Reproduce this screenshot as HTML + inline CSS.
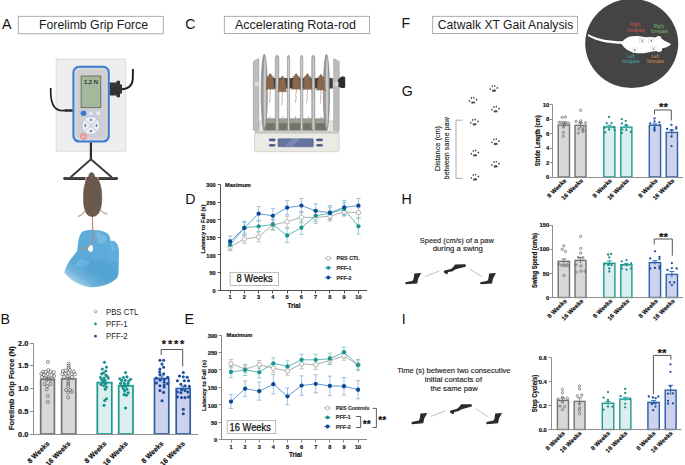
<!DOCTYPE html>
<html><head><meta charset="utf-8"><title>Figure</title>
<style>html,body{margin:0;padding:0;background:#fff;width:685px;height:465px;overflow:hidden}
svg{display:block} text{font-family:"Liberation Sans",sans-serif}</style></head>
<body><svg width="685" height="465" viewBox="0 0 685 465">
<rect width="685" height="465" fill="#fff"/>
<rect x="18.3" y="16.3" width="145.0" height="17.499999999999996" fill="#fff" stroke="#9a9a9a" stroke-width="0.8"/>
<text x="39.00" y="29.30" font-size="12.8" font-weight="normal" text-anchor="start" fill="#1a1a1a" textLength="109" lengthAdjust="spacingAndGlyphs">Forelimb Grip Force</text>
<rect x="224.3" y="16.3" width="145.3" height="17.3" fill="#fff" stroke="#9a9a9a" stroke-width="0.8"/>
<text x="235.00" y="29.30" font-size="12.8" font-weight="normal" text-anchor="start" fill="#1a1a1a" textLength="121" lengthAdjust="spacingAndGlyphs">Accelerating Rota-rod</text>
<rect x="432.7" y="16.3" width="144.8" height="17.3" fill="#fff" stroke="#9a9a9a" stroke-width="0.8"/>
<text x="437.80" y="29.30" font-size="12.8" font-weight="normal" text-anchor="start" fill="#1a1a1a" textLength="135.5" lengthAdjust="spacingAndGlyphs">Catwalk XT Gait Analysis</text>
<text x="2.00" y="28.60" font-size="14.2" font-weight="normal" text-anchor="start" fill="#111">A</text>
<text x="185.30" y="28.60" font-size="14.2" font-weight="normal" text-anchor="start" fill="#111">C</text>
<text x="401.50" y="28.30" font-size="14.2" font-weight="normal" text-anchor="start" fill="#111">F</text>
<text x="0.60" y="324.20" font-size="14.2" font-weight="normal" text-anchor="start" fill="#111">B</text>
<text x="184.60" y="324.20" font-size="14.2" font-weight="normal" text-anchor="start" fill="#111">E</text>
<text x="185.30" y="204.40" font-size="14.2" font-weight="normal" text-anchor="start" fill="#111">D</text>
<text x="401.80" y="95.90" font-size="14.2" font-weight="normal" text-anchor="start" fill="#111">G</text>
<text x="401.40" y="204.20" font-size="14.2" font-weight="normal" text-anchor="start" fill="#111">H</text>
<text x="401.80" y="324.00" font-size="14.2" font-weight="normal" text-anchor="start" fill="#111">I</text>
<line x1="33.5" y1="343" x2="33.5" y2="434.5" stroke="#8e8e8e" stroke-width="1.0"/>
<line x1="29.9" y1="434.50" x2="33.5" y2="434.50" stroke="#8e8e8e" stroke-width="1.0"/>
<text x="28.40" y="436.66" font-size="7.4" font-weight="bold" text-anchor="end" fill="#111" stroke="#111" stroke-width="0.18">0.0</text>
<line x1="29.9" y1="411.50" x2="33.5" y2="411.50" stroke="#8e8e8e" stroke-width="1.0"/>
<text x="28.40" y="413.91" font-size="7.4" font-weight="bold" text-anchor="end" fill="#111" stroke="#111" stroke-width="0.18">0.5</text>
<line x1="29.9" y1="388.50" x2="33.5" y2="388.50" stroke="#8e8e8e" stroke-width="1.0"/>
<text x="28.40" y="391.16" font-size="7.4" font-weight="bold" text-anchor="end" fill="#111" stroke="#111" stroke-width="0.18">1.0</text>
<line x1="29.9" y1="365.50" x2="33.5" y2="365.50" stroke="#8e8e8e" stroke-width="1.0"/>
<text x="28.40" y="368.41" font-size="7.4" font-weight="bold" text-anchor="end" fill="#111" stroke="#111" stroke-width="0.18">1.5</text>
<line x1="29.9" y1="343.50" x2="33.5" y2="343.50" stroke="#8e8e8e" stroke-width="1.0"/>
<text x="28.40" y="345.66" font-size="7.4" font-weight="bold" text-anchor="end" fill="#111" stroke="#111" stroke-width="0.18">2.0</text>
<text x="13.60" y="388.20" font-size="7.2" font-weight="bold" text-anchor="middle" fill="#111" textLength="84" lengthAdjust="spacingAndGlyphs" transform="rotate(-90 13.60 388.20)" stroke="#111" stroke-width="0.18">Forelimb Grip Force (N)</text>
<rect x="40.70" y="379.40" width="13.70" height="54.60" fill="#d8d8d8" stroke="#737373" stroke-width="1.7"/>
<line x1="47.55" y1="377.35" x2="47.55" y2="381.45" stroke="#737373" stroke-width="0.9"/>
<line x1="45.05" y1="377.35" x2="50.05" y2="377.35" stroke="#737373" stroke-width="0.9"/>
<circle cx="47.85" cy="362.00" r="1.55" fill="none" stroke="#6a6a6a" stroke-width="0.75"/>
<circle cx="48.35" cy="370.10" r="1.55" fill="none" stroke="#6a6a6a" stroke-width="0.75"/>
<circle cx="43.05" cy="371.70" r="1.55" fill="none" stroke="#6a6a6a" stroke-width="0.75"/>
<circle cx="53.75" cy="372.20" r="1.55" fill="none" stroke="#6a6a6a" stroke-width="0.75"/>
<circle cx="41.35" cy="373.80" r="1.55" fill="none" stroke="#6a6a6a" stroke-width="0.75"/>
<circle cx="45.55" cy="372.00" r="1.55" fill="none" stroke="#6a6a6a" stroke-width="0.75"/>
<circle cx="50.55" cy="371.50" r="1.55" fill="none" stroke="#6a6a6a" stroke-width="0.75"/>
<circle cx="43.55" cy="375.00" r="1.55" fill="none" stroke="#6a6a6a" stroke-width="0.75"/>
<circle cx="47.55" cy="374.00" r="1.55" fill="none" stroke="#6a6a6a" stroke-width="0.75"/>
<circle cx="51.55" cy="375.00" r="1.55" fill="none" stroke="#6a6a6a" stroke-width="0.75"/>
<circle cx="54.05" cy="376.00" r="1.55" fill="none" stroke="#6a6a6a" stroke-width="0.75"/>
<circle cx="42.05" cy="377.00" r="1.55" fill="none" stroke="#6a6a6a" stroke-width="0.75"/>
<circle cx="45.05" cy="378.00" r="1.55" fill="none" stroke="#6a6a6a" stroke-width="0.75"/>
<circle cx="48.55" cy="377.50" r="1.55" fill="none" stroke="#6a6a6a" stroke-width="0.75"/>
<circle cx="52.55" cy="378.50" r="1.55" fill="none" stroke="#6a6a6a" stroke-width="0.75"/>
<circle cx="46.55" cy="380.00" r="1.55" fill="none" stroke="#6a6a6a" stroke-width="0.75"/>
<circle cx="50.55" cy="380.00" r="1.55" fill="none" stroke="#6a6a6a" stroke-width="0.75"/>
<circle cx="44.65" cy="384.00" r="1.55" fill="none" stroke="#6a6a6a" stroke-width="0.75"/>
<circle cx="50.55" cy="384.00" r="1.55" fill="none" stroke="#6a6a6a" stroke-width="0.75"/>
<circle cx="47.35" cy="386.20" r="1.55" fill="none" stroke="#6a6a6a" stroke-width="0.75"/>
<circle cx="46.75" cy="389.40" r="1.55" fill="none" stroke="#6a6a6a" stroke-width="0.75"/>
<circle cx="47.85" cy="395.90" r="1.55" fill="none" stroke="#6a6a6a" stroke-width="0.75"/>
<circle cx="47.85" cy="401.80" r="1.55" fill="none" stroke="#6a6a6a" stroke-width="0.75"/>
<text x="49.95" y="444.00" font-size="7.0" font-weight="bold" text-anchor="end" fill="#111" transform="rotate(-45 49.95 444.00)" stroke="#111" stroke-width="0.18">8 Weeks</text>
<rect x="61.60" y="378.94" width="14.20" height="55.06" fill="#d8d8d8" stroke="#737373" stroke-width="1.7"/>
<line x1="68.70" y1="377.12" x2="68.70" y2="380.76" stroke="#737373" stroke-width="0.9"/>
<line x1="66.20" y1="377.12" x2="71.20" y2="377.12" stroke="#737373" stroke-width="0.9"/>
<circle cx="68.70" cy="363.60" r="1.55" fill="none" stroke="#6a6a6a" stroke-width="0.75"/>
<circle cx="68.70" cy="365.80" r="1.55" fill="none" stroke="#6a6a6a" stroke-width="0.75"/>
<circle cx="68.70" cy="367.90" r="1.55" fill="none" stroke="#6a6a6a" stroke-width="0.75"/>
<circle cx="62.90" cy="371.00" r="1.55" fill="none" stroke="#6a6a6a" stroke-width="0.75"/>
<circle cx="65.90" cy="370.50" r="1.55" fill="none" stroke="#6a6a6a" stroke-width="0.75"/>
<circle cx="69.90" cy="370.00" r="1.55" fill="none" stroke="#6a6a6a" stroke-width="0.75"/>
<circle cx="73.90" cy="371.50" r="1.55" fill="none" stroke="#6a6a6a" stroke-width="0.75"/>
<circle cx="62.40" cy="374.00" r="1.55" fill="none" stroke="#6a6a6a" stroke-width="0.75"/>
<circle cx="65.40" cy="373.50" r="1.55" fill="none" stroke="#6a6a6a" stroke-width="0.75"/>
<circle cx="68.40" cy="373.00" r="1.55" fill="none" stroke="#6a6a6a" stroke-width="0.75"/>
<circle cx="71.90" cy="374.00" r="1.55" fill="none" stroke="#6a6a6a" stroke-width="0.75"/>
<circle cx="74.90" cy="374.50" r="1.55" fill="none" stroke="#6a6a6a" stroke-width="0.75"/>
<circle cx="63.90" cy="376.50" r="1.55" fill="none" stroke="#6a6a6a" stroke-width="0.75"/>
<circle cx="67.90" cy="376.50" r="1.55" fill="none" stroke="#6a6a6a" stroke-width="0.75"/>
<circle cx="71.90" cy="377.00" r="1.55" fill="none" stroke="#6a6a6a" stroke-width="0.75"/>
<circle cx="68.20" cy="381.90" r="1.55" fill="none" stroke="#6a6a6a" stroke-width="0.75"/>
<circle cx="68.20" cy="384.00" r="1.55" fill="none" stroke="#6a6a6a" stroke-width="0.75"/>
<circle cx="68.20" cy="386.20" r="1.55" fill="none" stroke="#6a6a6a" stroke-width="0.75"/>
<circle cx="66.00" cy="390.00" r="1.55" fill="none" stroke="#6a6a6a" stroke-width="0.75"/>
<circle cx="70.30" cy="390.00" r="1.55" fill="none" stroke="#6a6a6a" stroke-width="0.75"/>
<circle cx="68.20" cy="392.70" r="1.55" fill="none" stroke="#6a6a6a" stroke-width="0.75"/>
<circle cx="71.90" cy="391.60" r="1.55" fill="none" stroke="#6a6a6a" stroke-width="0.75"/>
<circle cx="68.20" cy="397.50" r="1.55" fill="none" stroke="#6a6a6a" stroke-width="0.75"/>
<text x="71.10" y="444.00" font-size="7.0" font-weight="bold" text-anchor="end" fill="#111" transform="rotate(-45 71.10 444.00)" stroke="#111" stroke-width="0.18">16 Weeks</text>
<rect x="97.30" y="382.59" width="14.50" height="51.41" fill="#dcefee" stroke="#1e9992" stroke-width="1.7"/>
<line x1="104.55" y1="380.31" x2="104.55" y2="384.86" stroke="#1e9992" stroke-width="0.9"/>
<line x1="102.05" y1="380.31" x2="107.05" y2="380.31" stroke="#1e9992" stroke-width="0.9"/>
<circle cx="104.45" cy="362.30" r="1.55" fill="#1a8f8a"/>
<circle cx="106.45" cy="367.10" r="1.55" fill="#1a8f8a"/>
<circle cx="102.35" cy="369.00" r="1.55" fill="#1a8f8a"/>
<circle cx="105.85" cy="371.00" r="1.55" fill="#1a8f8a"/>
<circle cx="103.55" cy="372.70" r="1.55" fill="#1a8f8a"/>
<circle cx="101.75" cy="373.90" r="1.55" fill="#1a8f8a"/>
<circle cx="105.85" cy="375.10" r="1.55" fill="#1a8f8a"/>
<circle cx="107.05" cy="376.30" r="1.55" fill="#1a8f8a"/>
<circle cx="100.55" cy="377.50" r="1.55" fill="#1a8f8a"/>
<circle cx="104.05" cy="378.10" r="1.55" fill="#1a8f8a"/>
<circle cx="108.25" cy="378.10" r="1.55" fill="#1a8f8a"/>
<circle cx="101.75" cy="379.80" r="1.55" fill="#1a8f8a"/>
<circle cx="104.65" cy="380.40" r="1.55" fill="#1a8f8a"/>
<circle cx="102.95" cy="382.20" r="1.55" fill="#1a8f8a"/>
<circle cx="105.85" cy="383.40" r="1.55" fill="#1a8f8a"/>
<circle cx="101.15" cy="384.60" r="1.55" fill="#1a8f8a"/>
<circle cx="104.05" cy="385.80" r="1.55" fill="#1a8f8a"/>
<circle cx="106.45" cy="387.00" r="1.55" fill="#1a8f8a"/>
<circle cx="105.25" cy="389.30" r="1.55" fill="#1a8f8a"/>
<circle cx="106.45" cy="398.80" r="1.55" fill="#1a8f8a"/>
<circle cx="104.65" cy="400.50" r="1.55" fill="#1a8f8a"/>
<circle cx="104.05" cy="405.30" r="1.55" fill="#1a8f8a"/>
<text x="106.95" y="444.00" font-size="7.0" font-weight="bold" text-anchor="end" fill="#111" transform="rotate(-45 106.95 444.00)" stroke="#111" stroke-width="0.18">8 Weeks</text>
<rect x="118.70" y="385.77" width="14.30" height="48.23" fill="#dcefee" stroke="#1e9992" stroke-width="1.7"/>
<line x1="125.85" y1="383.95" x2="125.85" y2="387.59" stroke="#1e9992" stroke-width="0.9"/>
<line x1="123.35" y1="383.95" x2="128.35" y2="383.95" stroke="#1e9992" stroke-width="0.9"/>
<circle cx="125.55" cy="372.50" r="1.55" fill="#1a8f8a"/>
<circle cx="119.85" cy="378.70" r="1.55" fill="#1a8f8a"/>
<circle cx="123.45" cy="377.50" r="1.55" fill="#1a8f8a"/>
<circle cx="126.95" cy="376.90" r="1.55" fill="#1a8f8a"/>
<circle cx="130.55" cy="379.30" r="1.55" fill="#1a8f8a"/>
<circle cx="121.65" cy="380.40" r="1.55" fill="#1a8f8a"/>
<circle cx="125.15" cy="380.40" r="1.55" fill="#1a8f8a"/>
<circle cx="128.75" cy="381.00" r="1.55" fill="#1a8f8a"/>
<circle cx="120.45" cy="383.40" r="1.55" fill="#1a8f8a"/>
<circle cx="124.05" cy="383.40" r="1.55" fill="#1a8f8a"/>
<circle cx="128.15" cy="383.40" r="1.55" fill="#1a8f8a"/>
<circle cx="122.25" cy="386.30" r="1.55" fill="#1a8f8a"/>
<circle cx="125.85" cy="386.30" r="1.55" fill="#1a8f8a"/>
<circle cx="123.45" cy="388.70" r="1.55" fill="#1a8f8a"/>
<circle cx="126.95" cy="389.30" r="1.55" fill="#1a8f8a"/>
<circle cx="124.65" cy="391.10" r="1.55" fill="#1a8f8a"/>
<circle cx="128.15" cy="392.90" r="1.55" fill="#1a8f8a"/>
<circle cx="124.05" cy="394.60" r="1.55" fill="#1a8f8a"/>
<circle cx="126.35" cy="395.20" r="1.55" fill="#1a8f8a"/>
<circle cx="125.55" cy="408.00" r="1.55" fill="#1a8f8a"/>
<text x="128.25" y="444.00" font-size="7.0" font-weight="bold" text-anchor="end" fill="#111" transform="rotate(-45 128.25 444.00)" stroke="#111" stroke-width="0.18">16 Weeks</text>
<rect x="154.50" y="378.49" width="14.30" height="55.51" fill="#cfd2ec" stroke="#2a5fa9" stroke-width="1.7"/>
<line x1="161.65" y1="375.99" x2="161.65" y2="380.99" stroke="#2a5fa9" stroke-width="0.9"/>
<line x1="159.15" y1="375.99" x2="164.15" y2="375.99" stroke="#2a5fa9" stroke-width="0.9"/>
<circle cx="159.95" cy="360.30" r="1.55" fill="#1d4e9b"/>
<circle cx="163.65" cy="360.30" r="1.55" fill="#1d4e9b"/>
<circle cx="162.05" cy="364.10" r="1.55" fill="#1d4e9b"/>
<circle cx="159.95" cy="369.00" r="1.55" fill="#1d4e9b"/>
<circle cx="163.65" cy="367.30" r="1.55" fill="#1d4e9b"/>
<circle cx="159.65" cy="371.80" r="1.55" fill="#1d4e9b"/>
<circle cx="163.65" cy="373.90" r="1.55" fill="#1d4e9b"/>
<circle cx="159.95" cy="374.60" r="1.55" fill="#1d4e9b"/>
<circle cx="156.45" cy="378.00" r="1.55" fill="#1d4e9b"/>
<circle cx="167.65" cy="377.30" r="1.55" fill="#1d4e9b"/>
<circle cx="159.95" cy="380.10" r="1.55" fill="#1d4e9b"/>
<circle cx="164.15" cy="379.40" r="1.55" fill="#1d4e9b"/>
<circle cx="156.45" cy="382.90" r="1.55" fill="#1d4e9b"/>
<circle cx="164.15" cy="382.20" r="1.55" fill="#1d4e9b"/>
<circle cx="167.65" cy="383.60" r="1.55" fill="#1d4e9b"/>
<circle cx="159.95" cy="385.70" r="1.55" fill="#1d4e9b"/>
<circle cx="164.15" cy="385.00" r="1.55" fill="#1d4e9b"/>
<circle cx="164.15" cy="387.10" r="1.55" fill="#1d4e9b"/>
<circle cx="159.95" cy="390.60" r="1.55" fill="#1d4e9b"/>
<circle cx="163.65" cy="392.40" r="1.55" fill="#1d4e9b"/>
<circle cx="162.05" cy="400.80" r="1.55" fill="#1d4e9b"/>
<text x="164.05" y="444.00" font-size="7.0" font-weight="bold" text-anchor="end" fill="#111" transform="rotate(-45 164.05 444.00)" stroke="#111" stroke-width="0.18">8 Weeks</text>
<rect x="176.20" y="388.50" width="14.00" height="45.50" fill="#cfd2ec" stroke="#2a5fa9" stroke-width="1.7"/>
<line x1="183.20" y1="386.23" x2="183.20" y2="390.77" stroke="#2a5fa9" stroke-width="0.9"/>
<line x1="180.70" y1="386.23" x2="185.70" y2="386.23" stroke="#2a5fa9" stroke-width="0.9"/>
<circle cx="183.30" cy="372.50" r="1.55" fill="#1d4e9b"/>
<circle cx="179.50" cy="376.00" r="1.55" fill="#1d4e9b"/>
<circle cx="183.30" cy="376.70" r="1.55" fill="#1d4e9b"/>
<circle cx="187.20" cy="377.30" r="1.55" fill="#1d4e9b"/>
<circle cx="177.40" cy="380.80" r="1.55" fill="#1d4e9b"/>
<circle cx="184.40" cy="380.80" r="1.55" fill="#1d4e9b"/>
<circle cx="188.60" cy="380.80" r="1.55" fill="#1d4e9b"/>
<circle cx="180.90" cy="384.30" r="1.55" fill="#1d4e9b"/>
<circle cx="185.10" cy="385.70" r="1.55" fill="#1d4e9b"/>
<circle cx="189.30" cy="386.40" r="1.55" fill="#1d4e9b"/>
<circle cx="181.60" cy="389.90" r="1.55" fill="#1d4e9b"/>
<circle cx="185.10" cy="390.60" r="1.55" fill="#1d4e9b"/>
<circle cx="177.40" cy="392.00" r="1.55" fill="#1d4e9b"/>
<circle cx="180.90" cy="392.70" r="1.55" fill="#1d4e9b"/>
<circle cx="187.90" cy="392.00" r="1.55" fill="#1d4e9b"/>
<circle cx="177.40" cy="396.90" r="1.55" fill="#1d4e9b"/>
<circle cx="181.60" cy="397.60" r="1.55" fill="#1d4e9b"/>
<circle cx="185.10" cy="397.60" r="1.55" fill="#1d4e9b"/>
<circle cx="188.60" cy="396.90" r="1.55" fill="#1d4e9b"/>
<circle cx="183.30" cy="409.20" r="1.55" fill="#1d4e9b"/>
<circle cx="183.30" cy="413.70" r="1.55" fill="#1d4e9b"/>
<text x="185.60" y="444.00" font-size="7.0" font-weight="bold" text-anchor="end" fill="#111" transform="rotate(-45 185.60 444.00)" stroke="#111" stroke-width="0.18">16 Weeks</text>
<line x1="33.0" y1="434.5" x2="198" y2="434.5" stroke="#8e8e8e" stroke-width="1.0"/>
<polyline points="161.2,355 161.2,349.5 182.7,349.5 182.7,366.5" fill="none" stroke="#555" stroke-width="1.0"/>
<text x="174.00" y="348.00" font-size="11" font-weight="bold" text-anchor="middle" fill="#111" stroke="#111" stroke-width="0.18" letter-spacing="1.8">****</text>
<circle cx="95.5" cy="311.6" r="1.3" fill="none" stroke="#7b7b7b" stroke-width="0.7"/>
<circle cx="95.5" cy="323.9" r="1.35" fill="#1b918c"/>
<circle cx="95.5" cy="336.2" r="1.35" fill="#1f4f9b"/>
<text x="106.00" y="314.60" font-size="8.2" font-weight="normal" text-anchor="start" fill="#222" textLength="32.4" lengthAdjust="spacingAndGlyphs">PBS CTL</text>
<text x="106.00" y="326.90" font-size="8.2" font-weight="normal" text-anchor="start" fill="#222" textLength="21.6" lengthAdjust="spacingAndGlyphs">PFF-1</text>
<text x="106.00" y="339.20" font-size="8.2" font-weight="normal" text-anchor="start" fill="#222" textLength="21.6" lengthAdjust="spacingAndGlyphs">PFF-2</text>
<line x1="552.5" y1="104.7" x2="552.5" y2="177.5" stroke="#8e8e8e" stroke-width="1.0"/>
<line x1="549.8" y1="177.50" x2="552.5" y2="177.50" stroke="#8e8e8e" stroke-width="1.0"/>
<text x="549.30" y="179.12" font-size="5.9" font-weight="bold" text-anchor="end" fill="#111" stroke="#111" stroke-width="0.18">0</text>
<line x1="549.8" y1="162.50" x2="552.5" y2="162.50" stroke="#8e8e8e" stroke-width="1.0"/>
<text x="549.30" y="164.66" font-size="5.9" font-weight="bold" text-anchor="end" fill="#111" stroke="#111" stroke-width="0.18">2</text>
<line x1="549.8" y1="148.50" x2="552.5" y2="148.50" stroke="#8e8e8e" stroke-width="1.0"/>
<text x="549.30" y="150.20" font-size="5.9" font-weight="bold" text-anchor="end" fill="#111" stroke="#111" stroke-width="0.18">4</text>
<line x1="549.8" y1="133.50" x2="552.5" y2="133.50" stroke="#8e8e8e" stroke-width="1.0"/>
<text x="549.30" y="135.74" font-size="5.9" font-weight="bold" text-anchor="end" fill="#111" stroke="#111" stroke-width="0.18">6</text>
<line x1="549.8" y1="119.50" x2="552.5" y2="119.50" stroke="#8e8e8e" stroke-width="1.0"/>
<text x="549.30" y="121.28" font-size="5.9" font-weight="bold" text-anchor="end" fill="#111" stroke="#111" stroke-width="0.18">8</text>
<line x1="549.8" y1="104.50" x2="552.5" y2="104.50" stroke="#8e8e8e" stroke-width="1.0"/>
<text x="549.30" y="106.82" font-size="5.9" font-weight="bold" text-anchor="end" fill="#111" stroke="#111" stroke-width="0.18">10</text>
<text x="539.60" y="140.80" font-size="6.5" font-weight="bold" text-anchor="middle" fill="#111" textLength="51" lengthAdjust="spacingAndGlyphs" transform="rotate(-90 539.60 140.80)" stroke="#111" stroke-width="0.18">Stride Length (cm)</text>
<rect x="558.20" y="125.09" width="11.30" height="51.91" fill="#d8d8d8" stroke="#737373" stroke-width="1.4"/>
<line x1="563.85" y1="122.92" x2="563.85" y2="127.26" stroke="#737373" stroke-width="0.9"/>
<line x1="561.35" y1="122.92" x2="566.35" y2="122.92" stroke="#737373" stroke-width="0.9"/>
<circle cx="562.20" cy="117.30" r="1.15" fill="none" stroke="#6a6a6a" stroke-width="0.75"/>
<circle cx="565.50" cy="117.00" r="1.15" fill="none" stroke="#6a6a6a" stroke-width="0.75"/>
<circle cx="559.10" cy="122.30" r="1.15" fill="none" stroke="#6a6a6a" stroke-width="0.75"/>
<circle cx="561.40" cy="122.50" r="1.15" fill="none" stroke="#6a6a6a" stroke-width="0.75"/>
<circle cx="563.80" cy="122.50" r="1.15" fill="none" stroke="#6a6a6a" stroke-width="0.75"/>
<circle cx="566.10" cy="122.50" r="1.15" fill="none" stroke="#6a6a6a" stroke-width="0.75"/>
<circle cx="568.80" cy="123.10" r="1.15" fill="none" stroke="#6a6a6a" stroke-width="0.75"/>
<circle cx="564.30" cy="124.90" r="1.15" fill="none" stroke="#6a6a6a" stroke-width="0.75"/>
<circle cx="563.40" cy="127.20" r="1.15" fill="none" stroke="#6a6a6a" stroke-width="0.75"/>
<circle cx="563.40" cy="132.40" r="1.15" fill="none" stroke="#6a6a6a" stroke-width="0.75"/>
<circle cx="563.40" cy="136.30" r="1.15" fill="none" stroke="#6a6a6a" stroke-width="0.75"/>
<text x="566.75" y="181.00" font-size="6.1" font-weight="bold" text-anchor="end" fill="#111" transform="rotate(-45 566.75 181.00)" stroke="#111" stroke-width="0.18">8 Weeks</text>
<rect x="575.00" y="125.38" width="11.00" height="51.62" fill="#d8d8d8" stroke="#737373" stroke-width="1.4"/>
<line x1="580.50" y1="122.85" x2="580.50" y2="127.91" stroke="#737373" stroke-width="0.9"/>
<line x1="578.00" y1="122.85" x2="583.00" y2="122.85" stroke="#737373" stroke-width="0.9"/>
<circle cx="580.70" cy="110.30" r="1.15" fill="none" stroke="#6a6a6a" stroke-width="0.75"/>
<circle cx="576.00" cy="121.40" r="1.15" fill="none" stroke="#6a6a6a" stroke-width="0.75"/>
<circle cx="580.70" cy="120.80" r="1.15" fill="none" stroke="#6a6a6a" stroke-width="0.75"/>
<circle cx="585.60" cy="122.80" r="1.15" fill="none" stroke="#6a6a6a" stroke-width="0.75"/>
<circle cx="580.70" cy="122.50" r="1.15" fill="none" stroke="#6a6a6a" stroke-width="0.75"/>
<circle cx="578.90" cy="128.90" r="1.15" fill="none" stroke="#6a6a6a" stroke-width="0.75"/>
<circle cx="583.00" cy="127.80" r="1.15" fill="none" stroke="#6a6a6a" stroke-width="0.75"/>
<circle cx="583.00" cy="130.10" r="1.15" fill="none" stroke="#6a6a6a" stroke-width="0.75"/>
<circle cx="583.00" cy="131.60" r="1.15" fill="none" stroke="#6a6a6a" stroke-width="0.75"/>
<circle cx="578.40" cy="133.00" r="1.15" fill="none" stroke="#6a6a6a" stroke-width="0.75"/>
<text x="583.40" y="181.00" font-size="6.1" font-weight="bold" text-anchor="end" fill="#111" transform="rotate(-45 583.40 181.00)" stroke="#111" stroke-width="0.18">16 Weeks</text>
<rect x="603.80" y="126.97" width="11.10" height="50.03" fill="#dcefee" stroke="#1e9992" stroke-width="1.4"/>
<line x1="609.35" y1="125.16" x2="609.35" y2="128.78" stroke="#1e9992" stroke-width="0.9"/>
<line x1="606.85" y1="125.16" x2="611.85" y2="125.16" stroke="#1e9992" stroke-width="0.9"/>
<circle cx="609.10" cy="117.00" r="1.15" fill="#1a8f8a"/>
<circle cx="606.70" cy="123.10" r="1.15" fill="#1a8f8a"/>
<circle cx="611.60" cy="123.10" r="1.15" fill="#1a8f8a"/>
<circle cx="609.10" cy="129.50" r="1.15" fill="#1a8f8a"/>
<circle cx="605.20" cy="132.40" r="1.15" fill="#1a8f8a"/>
<circle cx="614.60" cy="130.10" r="1.15" fill="#1a8f8a"/>
<circle cx="604.50" cy="127.50" r="1.15" fill="#1a8f8a"/>
<circle cx="613.50" cy="127.30" r="1.15" fill="#1a8f8a"/>
<text x="612.25" y="181.00" font-size="6.1" font-weight="bold" text-anchor="end" fill="#111" transform="rotate(-45 612.25 181.00)" stroke="#111" stroke-width="0.18">8 Weeks</text>
<rect x="620.80" y="127.19" width="11.10" height="49.81" fill="#dcefee" stroke="#1e9992" stroke-width="1.4"/>
<line x1="626.35" y1="125.38" x2="626.35" y2="128.99" stroke="#1e9992" stroke-width="0.9"/>
<line x1="623.85" y1="125.38" x2="628.85" y2="125.38" stroke="#1e9992" stroke-width="0.9"/>
<circle cx="621.80" cy="119.20" r="1.15" fill="#1a8f8a"/>
<circle cx="625.70" cy="120.80" r="1.15" fill="#1a8f8a"/>
<circle cx="621.80" cy="123.50" r="1.15" fill="#1a8f8a"/>
<circle cx="626.20" cy="124.90" r="1.15" fill="#1a8f8a"/>
<circle cx="622.20" cy="129.50" r="1.15" fill="#1a8f8a"/>
<circle cx="626.20" cy="130.10" r="1.15" fill="#1a8f8a"/>
<circle cx="630.90" cy="131.90" r="1.15" fill="#1a8f8a"/>
<circle cx="621.80" cy="133.00" r="1.15" fill="#1a8f8a"/>
<text x="629.25" y="181.00" font-size="6.1" font-weight="bold" text-anchor="end" fill="#111" transform="rotate(-45 629.25 181.00)" stroke="#111" stroke-width="0.18">16 Weeks</text>
<rect x="649.30" y="125.31" width="11.30" height="51.69" fill="#cfd2ec" stroke="#2a5fa9" stroke-width="1.4"/>
<line x1="654.95" y1="123.86" x2="654.95" y2="126.75" stroke="#2a5fa9" stroke-width="0.9"/>
<line x1="652.45" y1="123.86" x2="657.45" y2="123.86" stroke="#2a5fa9" stroke-width="0.9"/>
<circle cx="654.50" cy="118.40" r="1.15" fill="#1d4e9b"/>
<circle cx="654.50" cy="121.50" r="1.15" fill="#1d4e9b"/>
<circle cx="659.40" cy="122.40" r="1.15" fill="#1d4e9b"/>
<circle cx="650.20" cy="123.40" r="1.15" fill="#1d4e9b"/>
<circle cx="654.50" cy="127.70" r="1.15" fill="#1d4e9b"/>
<circle cx="654.50" cy="129.20" r="1.15" fill="#1d4e9b"/>
<circle cx="654.50" cy="130.70" r="1.15" fill="#1d4e9b"/>
<circle cx="659.80" cy="125.30" r="1.15" fill="#1d4e9b"/>
<text x="657.85" y="181.00" font-size="6.1" font-weight="bold" text-anchor="end" fill="#111" transform="rotate(-45 657.85 181.00)" stroke="#111" stroke-width="0.18">8 Weeks</text>
<rect x="666.20" y="132.39" width="11.30" height="44.61" fill="#cfd2ec" stroke="#2a5fa9" stroke-width="1.4"/>
<line x1="671.85" y1="129.86" x2="671.85" y2="134.92" stroke="#2a5fa9" stroke-width="0.9"/>
<line x1="669.35" y1="129.86" x2="674.35" y2="129.86" stroke="#2a5fa9" stroke-width="0.9"/>
<circle cx="671.50" cy="124.80" r="1.15" fill="#1d4e9b"/>
<circle cx="667.10" cy="129.00" r="1.15" fill="#1d4e9b"/>
<circle cx="676.30" cy="127.10" r="1.15" fill="#1d4e9b"/>
<circle cx="676.30" cy="128.70" r="1.15" fill="#1d4e9b"/>
<circle cx="671.50" cy="130.20" r="1.15" fill="#1d4e9b"/>
<circle cx="671.50" cy="136.50" r="1.15" fill="#1d4e9b"/>
<circle cx="671.50" cy="146.10" r="1.15" fill="#1d4e9b"/>
<text x="674.75" y="181.00" font-size="6.1" font-weight="bold" text-anchor="end" fill="#111" transform="rotate(-45 674.75 181.00)" stroke="#111" stroke-width="0.18">16 Weeks</text>
<line x1="552.0" y1="177.5" x2="683" y2="177.5" stroke="#8e8e8e" stroke-width="1.0"/>
<polyline points="654.5,114.4 654.5,110 671.3,110 671.3,120.5" fill="none" stroke="#555" stroke-width="1.0"/>
<text x="663.40" y="111.20" font-size="11.5" font-weight="bold" text-anchor="middle" fill="#111" stroke="#111" stroke-width="0.18">**</text>
<line x1="552.5" y1="225.2" x2="552.5" y2="297.5" stroke="#8e8e8e" stroke-width="1.0"/>
<line x1="549.8" y1="297.50" x2="552.5" y2="297.50" stroke="#8e8e8e" stroke-width="1.0"/>
<text x="549.30" y="299.62" font-size="5.9" font-weight="bold" text-anchor="end" fill="#111" stroke="#111" stroke-width="0.18">0</text>
<line x1="549.8" y1="273.50" x2="552.5" y2="273.50" stroke="#8e8e8e" stroke-width="1.0"/>
<text x="549.30" y="275.52" font-size="5.9" font-weight="bold" text-anchor="end" fill="#111" stroke="#111" stroke-width="0.18">50</text>
<line x1="549.8" y1="249.50" x2="552.5" y2="249.50" stroke="#8e8e8e" stroke-width="1.0"/>
<text x="549.30" y="251.42" font-size="5.9" font-weight="bold" text-anchor="end" fill="#111" stroke="#111" stroke-width="0.18">100</text>
<line x1="549.8" y1="225.50" x2="552.5" y2="225.50" stroke="#8e8e8e" stroke-width="1.0"/>
<text x="549.30" y="227.32" font-size="5.9" font-weight="bold" text-anchor="end" fill="#111" stroke="#111" stroke-width="0.18">150</text>
<text x="536.60" y="260.50" font-size="6.5" font-weight="bold" text-anchor="middle" fill="#111" textLength="55" lengthAdjust="spacingAndGlyphs" transform="rotate(-90 536.60 260.50)" stroke="#111" stroke-width="0.18">Swing Speed (cm/s)</text>
<rect x="558.20" y="261.30" width="11.30" height="36.20" fill="#d8d8d8" stroke="#737373" stroke-width="1.4"/>
<line x1="563.85" y1="258.89" x2="563.85" y2="263.71" stroke="#737373" stroke-width="0.9"/>
<line x1="561.35" y1="258.89" x2="566.35" y2="258.89" stroke="#737373" stroke-width="0.9"/>
<circle cx="563.80" cy="245.80" r="1.15" fill="none" stroke="#6a6a6a" stroke-width="0.75"/>
<circle cx="562.20" cy="249.30" r="1.15" fill="none" stroke="#6a6a6a" stroke-width="0.75"/>
<circle cx="565.50" cy="251.40" r="1.15" fill="none" stroke="#6a6a6a" stroke-width="0.75"/>
<circle cx="558.90" cy="264.30" r="1.15" fill="none" stroke="#6a6a6a" stroke-width="0.75"/>
<circle cx="561.60" cy="265.30" r="1.15" fill="none" stroke="#6a6a6a" stroke-width="0.75"/>
<circle cx="563.90" cy="265.30" r="1.15" fill="none" stroke="#6a6a6a" stroke-width="0.75"/>
<circle cx="565.80" cy="265.30" r="1.15" fill="none" stroke="#6a6a6a" stroke-width="0.75"/>
<circle cx="568.50" cy="266.20" r="1.15" fill="none" stroke="#6a6a6a" stroke-width="0.75"/>
<circle cx="568.50" cy="263.60" r="1.15" fill="none" stroke="#6a6a6a" stroke-width="0.75"/>
<circle cx="563.90" cy="275.40" r="1.15" fill="none" stroke="#6a6a6a" stroke-width="0.75"/>
<text x="567.05" y="301.40" font-size="6.1" font-weight="bold" text-anchor="end" fill="#111" transform="rotate(-45 567.05 301.40)" stroke="#111" stroke-width="0.18">8 Weeks</text>
<rect x="575.00" y="260.39" width="11.00" height="37.11" fill="#d8d8d8" stroke="#737373" stroke-width="1.4"/>
<line x1="580.50" y1="257.49" x2="580.50" y2="263.28" stroke="#737373" stroke-width="0.9"/>
<line x1="578.00" y1="257.49" x2="583.00" y2="257.49" stroke="#737373" stroke-width="0.9"/>
<circle cx="580.70" cy="236.40" r="1.15" fill="none" stroke="#6a6a6a" stroke-width="0.75"/>
<circle cx="580.70" cy="248.50" r="1.15" fill="none" stroke="#6a6a6a" stroke-width="0.75"/>
<circle cx="580.70" cy="253.10" r="1.15" fill="none" stroke="#6a6a6a" stroke-width="0.75"/>
<circle cx="578.40" cy="257.40" r="1.15" fill="none" stroke="#6a6a6a" stroke-width="0.75"/>
<circle cx="583.00" cy="257.70" r="1.15" fill="none" stroke="#6a6a6a" stroke-width="0.75"/>
<circle cx="576.00" cy="264.90" r="1.15" fill="none" stroke="#6a6a6a" stroke-width="0.75"/>
<circle cx="581.00" cy="265.90" r="1.15" fill="none" stroke="#6a6a6a" stroke-width="0.75"/>
<circle cx="576.40" cy="272.20" r="1.15" fill="none" stroke="#6a6a6a" stroke-width="0.75"/>
<circle cx="581.00" cy="271.20" r="1.15" fill="none" stroke="#6a6a6a" stroke-width="0.75"/>
<circle cx="585.20" cy="271.30" r="1.15" fill="none" stroke="#6a6a6a" stroke-width="0.75"/>
<text x="583.70" y="301.40" font-size="6.1" font-weight="bold" text-anchor="end" fill="#111" transform="rotate(-45 583.70 301.40)" stroke="#111" stroke-width="0.18">16 Weeks</text>
<rect x="603.80" y="263.28" width="11.10" height="34.22" fill="#dcefee" stroke="#1e9992" stroke-width="1.4"/>
<line x1="609.35" y1="260.87" x2="609.35" y2="265.69" stroke="#1e9992" stroke-width="0.9"/>
<line x1="606.85" y1="260.87" x2="611.85" y2="260.87" stroke="#1e9992" stroke-width="0.9"/>
<circle cx="608.10" cy="254.50" r="1.15" fill="#1a8f8a"/>
<circle cx="611.10" cy="253.90" r="1.15" fill="#1a8f8a"/>
<circle cx="609.30" cy="257.40" r="1.15" fill="#1a8f8a"/>
<circle cx="608.10" cy="265.00" r="1.15" fill="#1a8f8a"/>
<circle cx="611.60" cy="265.00" r="1.15" fill="#1a8f8a"/>
<circle cx="609.30" cy="268.50" r="1.15" fill="#1a8f8a"/>
<circle cx="609.30" cy="271.50" r="1.15" fill="#1a8f8a"/>
<circle cx="604.50" cy="264.00" r="1.15" fill="#1a8f8a"/>
<text x="612.55" y="301.40" font-size="6.1" font-weight="bold" text-anchor="end" fill="#111" transform="rotate(-45 612.55 301.40)" stroke="#111" stroke-width="0.18">8 Weeks</text>
<rect x="620.80" y="264.82" width="11.10" height="32.68" fill="#dcefee" stroke="#1e9992" stroke-width="1.4"/>
<line x1="626.35" y1="263.37" x2="626.35" y2="266.27" stroke="#1e9992" stroke-width="0.9"/>
<line x1="623.85" y1="263.37" x2="628.85" y2="263.37" stroke="#1e9992" stroke-width="0.9"/>
<circle cx="626.50" cy="260.10" r="1.15" fill="#1a8f8a"/>
<circle cx="621.80" cy="261.30" r="1.15" fill="#1a8f8a"/>
<circle cx="631.10" cy="263.30" r="1.15" fill="#1a8f8a"/>
<circle cx="622.20" cy="265.00" r="1.15" fill="#1a8f8a"/>
<circle cx="626.50" cy="264.80" r="1.15" fill="#1a8f8a"/>
<circle cx="621.80" cy="268.50" r="1.15" fill="#1a8f8a"/>
<circle cx="626.50" cy="269.70" r="1.15" fill="#1a8f8a"/>
<circle cx="631.10" cy="268.50" r="1.15" fill="#1a8f8a"/>
<text x="629.55" y="301.40" font-size="6.1" font-weight="bold" text-anchor="end" fill="#111" transform="rotate(-45 629.55 301.40)" stroke="#111" stroke-width="0.18">16 Weeks</text>
<rect x="649.30" y="262.60" width="11.30" height="34.90" fill="#cfd2ec" stroke="#2a5fa9" stroke-width="1.4"/>
<line x1="654.95" y1="260.68" x2="654.95" y2="264.53" stroke="#2a5fa9" stroke-width="0.9"/>
<line x1="652.45" y1="260.68" x2="657.45" y2="260.68" stroke="#2a5fa9" stroke-width="0.9"/>
<circle cx="655.00" cy="251.30" r="1.15" fill="#1d4e9b"/>
<circle cx="650.20" cy="258.50" r="1.15" fill="#1d4e9b"/>
<circle cx="659.50" cy="257.00" r="1.15" fill="#1d4e9b"/>
<circle cx="659.50" cy="259.10" r="1.15" fill="#1d4e9b"/>
<circle cx="650.20" cy="268.50" r="1.15" fill="#1d4e9b"/>
<circle cx="655.00" cy="267.90" r="1.15" fill="#1d4e9b"/>
<circle cx="659.50" cy="268.50" r="1.15" fill="#1d4e9b"/>
<circle cx="659.50" cy="266.30" r="1.15" fill="#1d4e9b"/>
<text x="658.15" y="301.40" font-size="6.1" font-weight="bold" text-anchor="end" fill="#111" transform="rotate(-45 658.15 301.40)" stroke="#111" stroke-width="0.18">8 Weeks</text>
<rect x="666.20" y="274.41" width="11.30" height="23.09" fill="#cfd2ec" stroke="#2a5fa9" stroke-width="1.4"/>
<line x1="671.85" y1="271.52" x2="671.85" y2="277.30" stroke="#2a5fa9" stroke-width="0.9"/>
<line x1="669.35" y1="271.52" x2="674.35" y2="271.52" stroke="#2a5fa9" stroke-width="0.9"/>
<circle cx="671.90" cy="263.10" r="1.15" fill="#1d4e9b"/>
<circle cx="671.90" cy="268.10" r="1.15" fill="#1d4e9b"/>
<circle cx="667.40" cy="269.90" r="1.15" fill="#1d4e9b"/>
<circle cx="676.70" cy="268.50" r="1.15" fill="#1d4e9b"/>
<circle cx="669.90" cy="282.40" r="1.15" fill="#1d4e9b"/>
<circle cx="674.20" cy="282.40" r="1.15" fill="#1d4e9b"/>
<circle cx="671.90" cy="285.10" r="1.15" fill="#1d4e9b"/>
<text x="675.05" y="301.40" font-size="6.1" font-weight="bold" text-anchor="end" fill="#111" transform="rotate(-45 675.05 301.40)" stroke="#111" stroke-width="0.18">16 Weeks</text>
<line x1="552.0" y1="297.5" x2="683" y2="297.5" stroke="#8e8e8e" stroke-width="1.0"/>
<polyline points="654.2,244.4 654.2,239 672.3,239 672.3,255.7" fill="none" stroke="#555" stroke-width="1.0"/>
<text x="663.50" y="240.60" font-size="11.5" font-weight="bold" text-anchor="middle" fill="#111" stroke="#111" stroke-width="0.18">**</text>
<line x1="551.5" y1="357.4" x2="551.5" y2="429.5" stroke="#8e8e8e" stroke-width="1.0"/>
<line x1="548.5" y1="429.50" x2="551.5" y2="429.50" stroke="#8e8e8e" stroke-width="1.0"/>
<text x="546.80" y="431.59" font-size="5.8" font-weight="bold" text-anchor="end" fill="#111" stroke="#111" stroke-width="0.18">0.0</text>
<line x1="548.5" y1="405.50" x2="551.5" y2="405.50" stroke="#8e8e8e" stroke-width="1.0"/>
<text x="546.80" y="407.59" font-size="5.8" font-weight="bold" text-anchor="end" fill="#111" stroke="#111" stroke-width="0.18">0.2</text>
<line x1="548.5" y1="381.50" x2="551.5" y2="381.50" stroke="#8e8e8e" stroke-width="1.0"/>
<text x="546.80" y="383.59" font-size="5.8" font-weight="bold" text-anchor="end" fill="#111" stroke="#111" stroke-width="0.18">0.4</text>
<line x1="548.5" y1="357.50" x2="551.5" y2="357.50" stroke="#8e8e8e" stroke-width="1.0"/>
<text x="546.80" y="359.59" font-size="5.8" font-weight="bold" text-anchor="end" fill="#111" stroke="#111" stroke-width="0.18">0.6</text>
<text x="536.60" y="393.50" font-size="6.5" font-weight="bold" text-anchor="middle" fill="#111" textLength="37.6" lengthAdjust="spacingAndGlyphs" transform="rotate(-90 536.60 393.50)" stroke="#111" stroke-width="0.18">Step Cycle(s)</text>
<rect x="557.40" y="400.34" width="11.10" height="29.16" fill="#d8d8d8" stroke="#737373" stroke-width="1.4"/>
<line x1="562.95" y1="397.94" x2="562.95" y2="402.74" stroke="#737373" stroke-width="0.9"/>
<line x1="560.45" y1="397.94" x2="565.45" y2="397.94" stroke="#737373" stroke-width="0.9"/>
<circle cx="562.40" cy="389.50" r="1.15" fill="none" stroke="#6a6a6a" stroke-width="0.75"/>
<circle cx="562.40" cy="392.80" r="1.15" fill="none" stroke="#6a6a6a" stroke-width="0.75"/>
<circle cx="558.10" cy="399.10" r="1.15" fill="none" stroke="#6a6a6a" stroke-width="0.75"/>
<circle cx="562.40" cy="397.30" r="1.15" fill="none" stroke="#6a6a6a" stroke-width="0.75"/>
<circle cx="567.40" cy="398.30" r="1.15" fill="none" stroke="#6a6a6a" stroke-width="0.75"/>
<circle cx="562.40" cy="402.00" r="1.15" fill="none" stroke="#6a6a6a" stroke-width="0.75"/>
<circle cx="560.10" cy="406.10" r="1.15" fill="none" stroke="#6a6a6a" stroke-width="0.75"/>
<circle cx="564.50" cy="406.70" r="1.15" fill="none" stroke="#6a6a6a" stroke-width="0.75"/>
<circle cx="562.40" cy="409.60" r="1.15" fill="none" stroke="#6a6a6a" stroke-width="0.75"/>
<text x="565.25" y="433.60" font-size="6.1" font-weight="bold" text-anchor="end" fill="#111" transform="rotate(-45 565.25 433.60)" stroke="#111" stroke-width="0.18">8 Weeks</text>
<rect x="574.20" y="401.42" width="10.80" height="28.08" fill="#d8d8d8" stroke="#737373" stroke-width="1.4"/>
<line x1="579.60" y1="397.82" x2="579.60" y2="405.02" stroke="#737373" stroke-width="0.9"/>
<line x1="577.10" y1="397.82" x2="582.10" y2="397.82" stroke="#737373" stroke-width="0.9"/>
<circle cx="579.50" cy="386.00" r="1.15" fill="none" stroke="#6a6a6a" stroke-width="0.75"/>
<circle cx="579.50" cy="388.90" r="1.15" fill="none" stroke="#6a6a6a" stroke-width="0.75"/>
<circle cx="577.40" cy="395.60" r="1.15" fill="none" stroke="#6a6a6a" stroke-width="0.75"/>
<circle cx="581.80" cy="395.00" r="1.15" fill="none" stroke="#6a6a6a" stroke-width="0.75"/>
<circle cx="579.50" cy="403.80" r="1.15" fill="none" stroke="#6a6a6a" stroke-width="0.75"/>
<circle cx="579.50" cy="407.80" r="1.15" fill="none" stroke="#6a6a6a" stroke-width="0.75"/>
<circle cx="579.50" cy="410.20" r="1.15" fill="none" stroke="#6a6a6a" stroke-width="0.75"/>
<circle cx="579.50" cy="413.70" r="1.15" fill="none" stroke="#6a6a6a" stroke-width="0.75"/>
<text x="581.90" y="433.60" font-size="6.1" font-weight="bold" text-anchor="end" fill="#111" transform="rotate(-45 581.90 433.60)" stroke="#111" stroke-width="0.18">16 Weeks</text>
<rect x="602.30" y="403.22" width="11.50" height="26.28" fill="#dcefee" stroke="#1e9992" stroke-width="1.4"/>
<line x1="608.05" y1="401.42" x2="608.05" y2="405.02" stroke="#1e9992" stroke-width="0.9"/>
<line x1="605.55" y1="401.42" x2="610.55" y2="401.42" stroke="#1e9992" stroke-width="0.9"/>
<circle cx="608.00" cy="392.10" r="1.15" fill="#1a8f8a"/>
<circle cx="603.60" cy="397.70" r="1.15" fill="#1a8f8a"/>
<circle cx="608.00" cy="399.90" r="1.15" fill="#1a8f8a"/>
<circle cx="608.00" cy="406.70" r="1.15" fill="#1a8f8a"/>
<circle cx="603.60" cy="409.60" r="1.15" fill="#1a8f8a"/>
<circle cx="612.40" cy="406.70" r="1.15" fill="#1a8f8a"/>
<text x="610.35" y="433.60" font-size="6.1" font-weight="bold" text-anchor="end" fill="#111" transform="rotate(-45 610.35 433.60)" stroke="#111" stroke-width="0.18">8 Weeks</text>
<rect x="619.80" y="399.14" width="11.10" height="30.36" fill="#dcefee" stroke="#1e9992" stroke-width="1.4"/>
<line x1="625.35" y1="397.34" x2="625.35" y2="400.94" stroke="#1e9992" stroke-width="0.9"/>
<line x1="622.85" y1="397.34" x2="627.85" y2="397.34" stroke="#1e9992" stroke-width="0.9"/>
<circle cx="625.20" cy="388.90" r="1.15" fill="#1a8f8a"/>
<circle cx="625.20" cy="393.00" r="1.15" fill="#1a8f8a"/>
<circle cx="620.60" cy="396.20" r="1.15" fill="#1a8f8a"/>
<circle cx="629.70" cy="398.50" r="1.15" fill="#1a8f8a"/>
<circle cx="625.20" cy="403.80" r="1.15" fill="#1a8f8a"/>
<circle cx="625.20" cy="407.30" r="1.15" fill="#1a8f8a"/>
<text x="627.65" y="433.60" font-size="6.1" font-weight="bold" text-anchor="end" fill="#111" transform="rotate(-45 627.65 433.60)" stroke="#111" stroke-width="0.18">16 Weeks</text>
<rect x="647.90" y="402.38" width="11.40" height="27.12" fill="#cfd2ec" stroke="#2a5fa9" stroke-width="1.4"/>
<line x1="653.60" y1="400.58" x2="653.60" y2="404.18" stroke="#2a5fa9" stroke-width="0.9"/>
<line x1="651.10" y1="400.58" x2="656.10" y2="400.58" stroke="#2a5fa9" stroke-width="0.9"/>
<circle cx="648.80" cy="396.50" r="1.15" fill="#1d4e9b"/>
<circle cx="652.90" cy="397.50" r="1.15" fill="#1d4e9b"/>
<circle cx="655.70" cy="398.20" r="1.15" fill="#1d4e9b"/>
<circle cx="658.30" cy="396.50" r="1.15" fill="#1d4e9b"/>
<circle cx="651.90" cy="404.00" r="1.15" fill="#1d4e9b"/>
<circle cx="655.50" cy="403.40" r="1.15" fill="#1d4e9b"/>
<circle cx="655.50" cy="406.60" r="1.15" fill="#1d4e9b"/>
<circle cx="653.20" cy="410.20" r="1.15" fill="#1d4e9b"/>
<text x="655.90" y="433.60" font-size="6.1" font-weight="bold" text-anchor="end" fill="#111" transform="rotate(-45 655.90 433.60)" stroke="#111" stroke-width="0.18">8 Weeks</text>
<rect x="665.20" y="390.14" width="10.90" height="39.36" fill="#cfd2ec" stroke="#2a5fa9" stroke-width="1.4"/>
<line x1="670.65" y1="385.34" x2="670.65" y2="394.94" stroke="#2a5fa9" stroke-width="0.9"/>
<line x1="668.15" y1="385.34" x2="673.15" y2="385.34" stroke="#2a5fa9" stroke-width="0.9"/>
<circle cx="670.40" cy="364.30" r="1.15" fill="#1d4e9b"/>
<circle cx="670.40" cy="371.80" r="1.15" fill="#1d4e9b"/>
<circle cx="670.40" cy="386.20" r="1.15" fill="#1d4e9b"/>
<circle cx="668.10" cy="393.70" r="1.15" fill="#1d4e9b"/>
<circle cx="672.90" cy="393.40" r="1.15" fill="#1d4e9b"/>
<circle cx="668.10" cy="400.80" r="1.15" fill="#1d4e9b"/>
<circle cx="668.10" cy="403.70" r="1.15" fill="#1d4e9b"/>
<circle cx="672.90" cy="403.40" r="1.15" fill="#1d4e9b"/>
<text x="672.95" y="433.60" font-size="6.1" font-weight="bold" text-anchor="end" fill="#111" transform="rotate(-45 672.95 433.60)" stroke="#111" stroke-width="0.18">16 Weeks</text>
<line x1="551.0" y1="429.5" x2="681.5" y2="429.5" stroke="#8e8e8e" stroke-width="1.0"/>
<polyline points="653.4,394 653.4,355.4 670.9,355.4 670.9,359.8" fill="none" stroke="#555" stroke-width="1.0"/>
<text x="662.00" y="356.90" font-size="11.5" font-weight="bold" text-anchor="middle" fill="#111" stroke="#111" stroke-width="0.18">**</text>
<line x1="220.5" y1="184.6" x2="220.5" y2="290.5" stroke="#505050" stroke-width="1.0"/>
<line x1="220.0" y1="290.5" x2="367" y2="290.5" stroke="#505050" stroke-width="1.0"/>
<line x1="217.7" y1="290.50" x2="220.5" y2="290.50" stroke="#505050" stroke-width="1.0"/>
<text x="215.70" y="292.92" font-size="5.6" font-weight="bold" text-anchor="end" fill="#111" stroke="#111" stroke-width="0.18">0</text>
<line x1="217.7" y1="272.50" x2="220.5" y2="272.50" stroke="#505050" stroke-width="1.0"/>
<text x="215.70" y="275.33" font-size="5.6" font-weight="bold" text-anchor="end" fill="#111" stroke="#111" stroke-width="0.18">50</text>
<line x1="217.7" y1="254.50" x2="220.5" y2="254.50" stroke="#505050" stroke-width="1.0"/>
<text x="215.70" y="257.75" font-size="5.6" font-weight="bold" text-anchor="end" fill="#111" stroke="#111" stroke-width="0.18">100</text>
<line x1="217.7" y1="237.50" x2="220.5" y2="237.50" stroke="#505050" stroke-width="1.0"/>
<text x="215.70" y="240.16" font-size="5.6" font-weight="bold" text-anchor="end" fill="#111" stroke="#111" stroke-width="0.18">150</text>
<line x1="217.7" y1="219.50" x2="220.5" y2="219.50" stroke="#505050" stroke-width="1.0"/>
<text x="215.70" y="222.58" font-size="5.6" font-weight="bold" text-anchor="end" fill="#111" stroke="#111" stroke-width="0.18">200</text>
<line x1="217.7" y1="202.50" x2="220.5" y2="202.50" stroke="#505050" stroke-width="1.0"/>
<text x="215.70" y="204.99" font-size="5.6" font-weight="bold" text-anchor="end" fill="#111" stroke="#111" stroke-width="0.18">250</text>
<line x1="217.7" y1="184.50" x2="220.5" y2="184.50" stroke="#505050" stroke-width="1.0"/>
<text x="215.70" y="187.41" font-size="5.6" font-weight="bold" text-anchor="end" fill="#111" stroke="#111" stroke-width="0.18">300</text>
<line x1="230.50" y1="290.5" x2="230.50" y2="293.5" stroke="#505050" stroke-width="1.0"/>
<text x="230.10" y="299.30" font-size="5.6" font-weight="bold" text-anchor="middle" fill="#111" stroke="#111" stroke-width="0.18">1</text>
<line x1="244.50" y1="290.5" x2="244.50" y2="293.5" stroke="#505050" stroke-width="1.0"/>
<text x="244.36" y="299.30" font-size="5.6" font-weight="bold" text-anchor="middle" fill="#111" stroke="#111" stroke-width="0.18">2</text>
<line x1="258.50" y1="290.5" x2="258.50" y2="293.5" stroke="#505050" stroke-width="1.0"/>
<text x="258.62" y="299.30" font-size="5.6" font-weight="bold" text-anchor="middle" fill="#111" stroke="#111" stroke-width="0.18">3</text>
<line x1="272.50" y1="290.5" x2="272.50" y2="293.5" stroke="#505050" stroke-width="1.0"/>
<text x="272.88" y="299.30" font-size="5.6" font-weight="bold" text-anchor="middle" fill="#111" stroke="#111" stroke-width="0.18">4</text>
<line x1="287.50" y1="290.5" x2="287.50" y2="293.5" stroke="#505050" stroke-width="1.0"/>
<text x="287.14" y="299.30" font-size="5.6" font-weight="bold" text-anchor="middle" fill="#111" stroke="#111" stroke-width="0.18">5</text>
<line x1="301.50" y1="290.5" x2="301.50" y2="293.5" stroke="#505050" stroke-width="1.0"/>
<text x="301.40" y="299.30" font-size="5.6" font-weight="bold" text-anchor="middle" fill="#111" stroke="#111" stroke-width="0.18">6</text>
<line x1="315.50" y1="290.5" x2="315.50" y2="293.5" stroke="#505050" stroke-width="1.0"/>
<text x="315.66" y="299.30" font-size="5.6" font-weight="bold" text-anchor="middle" fill="#111" stroke="#111" stroke-width="0.18">7</text>
<line x1="329.50" y1="290.5" x2="329.50" y2="293.5" stroke="#505050" stroke-width="1.0"/>
<text x="329.92" y="299.30" font-size="5.6" font-weight="bold" text-anchor="middle" fill="#111" stroke="#111" stroke-width="0.18">8</text>
<line x1="344.50" y1="290.5" x2="344.50" y2="293.5" stroke="#505050" stroke-width="1.0"/>
<text x="344.18" y="299.30" font-size="5.6" font-weight="bold" text-anchor="middle" fill="#111" stroke="#111" stroke-width="0.18">9</text>
<line x1="358.50" y1="290.5" x2="358.50" y2="293.5" stroke="#505050" stroke-width="1.0"/>
<text x="358.44" y="299.30" font-size="5.6" font-weight="bold" text-anchor="middle" fill="#111" stroke="#111" stroke-width="0.18">10</text>
<text x="294.00" y="308.40" font-size="6.4" font-weight="bold" text-anchor="middle" fill="#111" stroke="#111" stroke-width="0.18">Trial</text>
<text x="225.00" y="187.00" font-size="5.6" font-weight="bold" text-anchor="start" fill="#111" stroke="#111" stroke-width="0.18">Maximum</text>
<text x="204.60" y="229.00" font-size="6.0" font-weight="bold" text-anchor="middle" fill="#111" textLength="49" lengthAdjust="spacingAndGlyphs" transform="rotate(-90 204.60 229.00)" stroke="#111" stroke-width="0.18">Latency to Fall (s)</text>
<line x1="230.10" y1="243.58" x2="230.10" y2="250.61" stroke="#b5b5b5" stroke-width="0.8"/>
<line x1="227.90" y1="243.58" x2="232.30" y2="243.58" stroke="#b5b5b5" stroke-width="0.8"/>
<line x1="227.90" y1="250.61" x2="232.30" y2="250.61" stroke="#b5b5b5" stroke-width="0.8"/>
<line x1="244.36" y1="234.78" x2="244.36" y2="243.22" stroke="#b5b5b5" stroke-width="0.8"/>
<line x1="242.16" y1="234.78" x2="246.56" y2="234.78" stroke="#b5b5b5" stroke-width="0.8"/>
<line x1="242.16" y1="243.22" x2="246.56" y2="243.22" stroke="#b5b5b5" stroke-width="0.8"/>
<line x1="258.62" y1="231.97" x2="258.62" y2="241.82" stroke="#b5b5b5" stroke-width="0.8"/>
<line x1="256.42" y1="231.97" x2="260.82" y2="231.97" stroke="#b5b5b5" stroke-width="0.8"/>
<line x1="256.42" y1="241.82" x2="260.82" y2="241.82" stroke="#b5b5b5" stroke-width="0.8"/>
<line x1="272.88" y1="219.31" x2="272.88" y2="230.56" stroke="#b5b5b5" stroke-width="0.8"/>
<line x1="270.68" y1="219.31" x2="275.08" y2="219.31" stroke="#b5b5b5" stroke-width="0.8"/>
<line x1="270.68" y1="230.56" x2="275.08" y2="230.56" stroke="#b5b5b5" stroke-width="0.8"/>
<line x1="287.14" y1="216.14" x2="287.14" y2="227.40" stroke="#b5b5b5" stroke-width="0.8"/>
<line x1="284.94" y1="216.14" x2="289.34" y2="216.14" stroke="#b5b5b5" stroke-width="0.8"/>
<line x1="284.94" y1="227.40" x2="289.34" y2="227.40" stroke="#b5b5b5" stroke-width="0.8"/>
<line x1="301.40" y1="211.57" x2="301.40" y2="222.83" stroke="#b5b5b5" stroke-width="0.8"/>
<line x1="299.20" y1="211.57" x2="303.60" y2="211.57" stroke="#b5b5b5" stroke-width="0.8"/>
<line x1="299.20" y1="222.83" x2="303.60" y2="222.83" stroke="#b5b5b5" stroke-width="0.8"/>
<line x1="315.66" y1="211.57" x2="315.66" y2="223.53" stroke="#b5b5b5" stroke-width="0.8"/>
<line x1="313.46" y1="211.57" x2="317.86" y2="211.57" stroke="#b5b5b5" stroke-width="0.8"/>
<line x1="313.46" y1="223.53" x2="317.86" y2="223.53" stroke="#b5b5b5" stroke-width="0.8"/>
<line x1="329.92" y1="211.22" x2="329.92" y2="221.07" stroke="#b5b5b5" stroke-width="0.8"/>
<line x1="327.72" y1="211.22" x2="332.12" y2="211.22" stroke="#b5b5b5" stroke-width="0.8"/>
<line x1="327.72" y1="221.07" x2="332.12" y2="221.07" stroke="#b5b5b5" stroke-width="0.8"/>
<line x1="344.18" y1="207.70" x2="344.18" y2="216.14" stroke="#b5b5b5" stroke-width="0.8"/>
<line x1="341.98" y1="207.70" x2="346.38" y2="207.70" stroke="#b5b5b5" stroke-width="0.8"/>
<line x1="341.98" y1="216.14" x2="346.38" y2="216.14" stroke="#b5b5b5" stroke-width="0.8"/>
<line x1="358.44" y1="207.70" x2="358.44" y2="217.55" stroke="#b5b5b5" stroke-width="0.8"/>
<line x1="356.24" y1="207.70" x2="360.64" y2="207.70" stroke="#b5b5b5" stroke-width="0.8"/>
<line x1="356.24" y1="217.55" x2="360.64" y2="217.55" stroke="#b5b5b5" stroke-width="0.8"/>
<line x1="230.10" y1="240.06" x2="230.10" y2="249.91" stroke="#7cc8c4" stroke-width="0.8"/>
<line x1="227.90" y1="240.06" x2="232.30" y2="240.06" stroke="#7cc8c4" stroke-width="0.8"/>
<line x1="227.90" y1="249.91" x2="232.30" y2="249.91" stroke="#7cc8c4" stroke-width="0.8"/>
<line x1="244.36" y1="222.47" x2="244.36" y2="233.02" stroke="#7cc8c4" stroke-width="0.8"/>
<line x1="242.16" y1="222.47" x2="246.56" y2="222.47" stroke="#7cc8c4" stroke-width="0.8"/>
<line x1="242.16" y1="233.02" x2="246.56" y2="233.02" stroke="#7cc8c4" stroke-width="0.8"/>
<line x1="258.62" y1="221.07" x2="258.62" y2="231.62" stroke="#7cc8c4" stroke-width="0.8"/>
<line x1="256.42" y1="221.07" x2="260.82" y2="221.07" stroke="#7cc8c4" stroke-width="0.8"/>
<line x1="256.42" y1="231.62" x2="260.82" y2="231.62" stroke="#7cc8c4" stroke-width="0.8"/>
<line x1="272.88" y1="219.66" x2="272.88" y2="229.51" stroke="#7cc8c4" stroke-width="0.8"/>
<line x1="270.68" y1="219.66" x2="275.08" y2="219.66" stroke="#7cc8c4" stroke-width="0.8"/>
<line x1="270.68" y1="229.51" x2="275.08" y2="229.51" stroke="#7cc8c4" stroke-width="0.8"/>
<line x1="287.14" y1="228.45" x2="287.14" y2="242.52" stroke="#7cc8c4" stroke-width="0.8"/>
<line x1="284.94" y1="228.45" x2="289.34" y2="228.45" stroke="#7cc8c4" stroke-width="0.8"/>
<line x1="284.94" y1="242.52" x2="289.34" y2="242.52" stroke="#7cc8c4" stroke-width="0.8"/>
<line x1="301.40" y1="221.07" x2="301.40" y2="234.43" stroke="#7cc8c4" stroke-width="0.8"/>
<line x1="299.20" y1="221.07" x2="303.60" y2="221.07" stroke="#7cc8c4" stroke-width="0.8"/>
<line x1="299.20" y1="234.43" x2="303.60" y2="234.43" stroke="#7cc8c4" stroke-width="0.8"/>
<line x1="315.66" y1="210.16" x2="315.66" y2="221.42" stroke="#7cc8c4" stroke-width="0.8"/>
<line x1="313.46" y1="210.16" x2="317.86" y2="210.16" stroke="#7cc8c4" stroke-width="0.8"/>
<line x1="313.46" y1="221.42" x2="317.86" y2="221.42" stroke="#7cc8c4" stroke-width="0.8"/>
<line x1="329.92" y1="207.35" x2="329.92" y2="219.31" stroke="#7cc8c4" stroke-width="0.8"/>
<line x1="327.72" y1="207.35" x2="332.12" y2="207.35" stroke="#7cc8c4" stroke-width="0.8"/>
<line x1="327.72" y1="219.31" x2="332.12" y2="219.31" stroke="#7cc8c4" stroke-width="0.8"/>
<line x1="344.18" y1="202.78" x2="344.18" y2="215.44" stroke="#7cc8c4" stroke-width="0.8"/>
<line x1="341.98" y1="202.78" x2="346.38" y2="202.78" stroke="#7cc8c4" stroke-width="0.8"/>
<line x1="341.98" y1="215.44" x2="346.38" y2="215.44" stroke="#7cc8c4" stroke-width="0.8"/>
<line x1="358.44" y1="218.60" x2="358.44" y2="234.08" stroke="#7cc8c4" stroke-width="0.8"/>
<line x1="356.24" y1="218.60" x2="360.64" y2="218.60" stroke="#7cc8c4" stroke-width="0.8"/>
<line x1="356.24" y1="234.08" x2="360.64" y2="234.08" stroke="#7cc8c4" stroke-width="0.8"/>
<line x1="230.10" y1="235.84" x2="230.10" y2="247.09" stroke="#86b4dc" stroke-width="0.8"/>
<line x1="227.90" y1="235.84" x2="232.30" y2="235.84" stroke="#86b4dc" stroke-width="0.8"/>
<line x1="227.90" y1="247.09" x2="232.30" y2="247.09" stroke="#86b4dc" stroke-width="0.8"/>
<line x1="244.36" y1="221.07" x2="244.36" y2="235.13" stroke="#86b4dc" stroke-width="0.8"/>
<line x1="242.16" y1="221.07" x2="246.56" y2="221.07" stroke="#86b4dc" stroke-width="0.8"/>
<line x1="242.16" y1="235.13" x2="246.56" y2="235.13" stroke="#86b4dc" stroke-width="0.8"/>
<line x1="258.62" y1="206.65" x2="258.62" y2="220.72" stroke="#86b4dc" stroke-width="0.8"/>
<line x1="256.42" y1="206.65" x2="260.82" y2="206.65" stroke="#86b4dc" stroke-width="0.8"/>
<line x1="256.42" y1="220.72" x2="260.82" y2="220.72" stroke="#86b4dc" stroke-width="0.8"/>
<line x1="272.88" y1="208.76" x2="272.88" y2="222.83" stroke="#86b4dc" stroke-width="0.8"/>
<line x1="270.68" y1="208.76" x2="275.08" y2="208.76" stroke="#86b4dc" stroke-width="0.8"/>
<line x1="270.68" y1="222.83" x2="275.08" y2="222.83" stroke="#86b4dc" stroke-width="0.8"/>
<line x1="287.14" y1="200.67" x2="287.14" y2="214.74" stroke="#86b4dc" stroke-width="0.8"/>
<line x1="284.94" y1="200.67" x2="289.34" y2="200.67" stroke="#86b4dc" stroke-width="0.8"/>
<line x1="284.94" y1="214.74" x2="289.34" y2="214.74" stroke="#86b4dc" stroke-width="0.8"/>
<line x1="301.40" y1="198.56" x2="301.40" y2="212.63" stroke="#86b4dc" stroke-width="0.8"/>
<line x1="299.20" y1="198.56" x2="303.60" y2="198.56" stroke="#86b4dc" stroke-width="0.8"/>
<line x1="299.20" y1="212.63" x2="303.60" y2="212.63" stroke="#86b4dc" stroke-width="0.8"/>
<line x1="315.66" y1="203.83" x2="315.66" y2="217.90" stroke="#86b4dc" stroke-width="0.8"/>
<line x1="313.46" y1="203.83" x2="317.86" y2="203.83" stroke="#86b4dc" stroke-width="0.8"/>
<line x1="313.46" y1="217.90" x2="317.86" y2="217.90" stroke="#86b4dc" stroke-width="0.8"/>
<line x1="329.92" y1="205.59" x2="329.92" y2="219.66" stroke="#86b4dc" stroke-width="0.8"/>
<line x1="327.72" y1="205.59" x2="332.12" y2="205.59" stroke="#86b4dc" stroke-width="0.8"/>
<line x1="327.72" y1="219.66" x2="332.12" y2="219.66" stroke="#86b4dc" stroke-width="0.8"/>
<line x1="344.18" y1="200.32" x2="344.18" y2="214.38" stroke="#86b4dc" stroke-width="0.8"/>
<line x1="341.98" y1="200.32" x2="346.38" y2="200.32" stroke="#86b4dc" stroke-width="0.8"/>
<line x1="341.98" y1="214.38" x2="346.38" y2="214.38" stroke="#86b4dc" stroke-width="0.8"/>
<line x1="358.44" y1="198.56" x2="358.44" y2="212.63" stroke="#86b4dc" stroke-width="0.8"/>
<line x1="356.24" y1="198.56" x2="360.64" y2="198.56" stroke="#86b4dc" stroke-width="0.8"/>
<line x1="356.24" y1="212.63" x2="360.64" y2="212.63" stroke="#86b4dc" stroke-width="0.8"/>
<polyline points="230.10,247.09 244.36,239.00 258.62,236.89 272.88,224.94 287.14,221.77 301.40,217.20 315.66,217.55 329.92,216.14 344.18,211.92 358.44,212.63" fill="none" stroke="#a6a6a6" stroke-width="0.9"/>
<polyline points="230.10,244.98 244.36,227.75 258.62,226.34 272.88,224.58 287.14,235.49 301.40,227.75 315.66,215.79 329.92,213.33 344.18,209.11 358.44,226.34" fill="none" stroke="#4db3ae" stroke-width="0.9"/>
<polyline points="230.10,241.47 244.36,228.10 258.62,213.68 272.88,215.79 287.14,207.70 301.40,205.59 315.66,210.87 329.92,212.63 344.18,207.35 358.44,205.59" fill="none" stroke="#4d8fcc" stroke-width="0.9"/>
<circle cx="230.10" cy="247.09" r="2.2" fill="#fff" stroke="#9a9a9a" stroke-width="0.7"/>
<circle cx="244.36" cy="239.00" r="2.2" fill="#fff" stroke="#9a9a9a" stroke-width="0.7"/>
<circle cx="258.62" cy="236.89" r="2.2" fill="#fff" stroke="#9a9a9a" stroke-width="0.7"/>
<circle cx="272.88" cy="224.94" r="2.2" fill="#fff" stroke="#9a9a9a" stroke-width="0.7"/>
<circle cx="287.14" cy="221.77" r="2.2" fill="#fff" stroke="#9a9a9a" stroke-width="0.7"/>
<circle cx="301.40" cy="217.20" r="2.2" fill="#fff" stroke="#9a9a9a" stroke-width="0.7"/>
<circle cx="315.66" cy="217.55" r="2.2" fill="#fff" stroke="#9a9a9a" stroke-width="0.7"/>
<circle cx="329.92" cy="216.14" r="2.2" fill="#fff" stroke="#9a9a9a" stroke-width="0.7"/>
<circle cx="344.18" cy="211.92" r="2.2" fill="#fff" stroke="#9a9a9a" stroke-width="0.7"/>
<circle cx="358.44" cy="212.63" r="2.2" fill="#fff" stroke="#9a9a9a" stroke-width="0.7"/>
<circle cx="230.10" cy="244.98" r="2.15" fill="#1d958f"/>
<circle cx="244.36" cy="227.75" r="2.15" fill="#1d958f"/>
<circle cx="258.62" cy="226.34" r="2.15" fill="#1d958f"/>
<circle cx="272.88" cy="224.58" r="2.15" fill="#1d958f"/>
<circle cx="287.14" cy="235.49" r="2.15" fill="#1d958f"/>
<circle cx="301.40" cy="227.75" r="2.15" fill="#1d958f"/>
<circle cx="315.66" cy="215.79" r="2.15" fill="#1d958f"/>
<circle cx="329.92" cy="213.33" r="2.15" fill="#1d958f"/>
<circle cx="344.18" cy="209.11" r="2.15" fill="#1d958f"/>
<circle cx="358.44" cy="226.34" r="2.15" fill="#1d958f"/>
<circle cx="230.10" cy="241.47" r="2.15" fill="#0d4a94"/>
<circle cx="244.36" cy="228.10" r="2.15" fill="#0d4a94"/>
<circle cx="258.62" cy="213.68" r="2.15" fill="#0d4a94"/>
<circle cx="272.88" cy="215.79" r="2.15" fill="#0d4a94"/>
<circle cx="287.14" cy="207.70" r="2.15" fill="#0d4a94"/>
<circle cx="301.40" cy="205.59" r="2.15" fill="#0d4a94"/>
<circle cx="315.66" cy="210.87" r="2.15" fill="#0d4a94"/>
<circle cx="329.92" cy="212.63" r="2.15" fill="#0d4a94"/>
<circle cx="344.18" cy="207.35" r="2.15" fill="#0d4a94"/>
<circle cx="358.44" cy="205.59" r="2.15" fill="#0d4a94"/>
<line x1="324.8" y1="258.3" x2="331.8" y2="258.3" stroke="#a6a6a6" stroke-width="0.9"/>
<circle cx="328.3" cy="258.3" r="1.9" fill="#fff" stroke="#9a9a9a" stroke-width="0.7"/>
<text x="336.60" y="260.30" font-size="5.6" font-weight="bold" text-anchor="start" fill="#333" textLength="23" lengthAdjust="spacingAndGlyphs" stroke="#333" stroke-width="0.18">PBS CTL</text>
<line x1="324.8" y1="267.8" x2="331.8" y2="267.8" stroke="#4db3ae" stroke-width="0.9"/>
<circle cx="328.3" cy="267.8" r="1.9" fill="#1d958f"/>
<text x="336.60" y="269.80" font-size="5.6" font-weight="bold" text-anchor="start" fill="#333" textLength="15" lengthAdjust="spacingAndGlyphs" stroke="#333" stroke-width="0.18">PFF-1</text>
<line x1="324.8" y1="277.5" x2="331.8" y2="277.5" stroke="#4d8fcc" stroke-width="0.9"/>
<circle cx="328.3" cy="277.5" r="1.9" fill="#0d4a94"/>
<text x="336.60" y="279.50" font-size="5.6" font-weight="bold" text-anchor="start" fill="#333" textLength="15" lengthAdjust="spacingAndGlyphs" stroke="#333" stroke-width="0.18">PFF-2</text>
<rect x="230.1" y="272.3" width="48.5" height="13.2" fill="#fff" stroke="#a0a0a0" stroke-width="0.7"/>
<text x="236.60" y="282.00" font-size="10" font-weight="normal" text-anchor="start" fill="#111" textLength="36" lengthAdjust="spacingAndGlyphs" stroke="#111" stroke-width="0.25">8 Weeks</text>
<line x1="221.5" y1="335.1" x2="221.5" y2="439.5" stroke="#8a8a8a" stroke-width="1.0"/>
<line x1="221.0" y1="439.5" x2="367" y2="439.5" stroke="#8a8a8a" stroke-width="1.0"/>
<line x1="218.7" y1="439.50" x2="221.5" y2="439.50" stroke="#8a8a8a" stroke-width="1.0"/>
<text x="217.20" y="442.42" font-size="5.6" font-weight="bold" text-anchor="end" fill="#111" stroke="#111" stroke-width="0.18">0</text>
<line x1="218.7" y1="422.50" x2="221.5" y2="422.50" stroke="#8a8a8a" stroke-width="1.0"/>
<text x="217.20" y="425.02" font-size="5.6" font-weight="bold" text-anchor="end" fill="#111" stroke="#111" stroke-width="0.18">50</text>
<line x1="218.7" y1="404.50" x2="221.5" y2="404.50" stroke="#8a8a8a" stroke-width="1.0"/>
<text x="217.20" y="407.62" font-size="5.6" font-weight="bold" text-anchor="end" fill="#111" stroke="#111" stroke-width="0.18">100</text>
<line x1="218.7" y1="387.50" x2="221.5" y2="387.50" stroke="#8a8a8a" stroke-width="1.0"/>
<text x="217.20" y="390.22" font-size="5.6" font-weight="bold" text-anchor="end" fill="#111" stroke="#111" stroke-width="0.18">150</text>
<line x1="218.7" y1="369.50" x2="221.5" y2="369.50" stroke="#8a8a8a" stroke-width="1.0"/>
<text x="217.20" y="372.82" font-size="5.6" font-weight="bold" text-anchor="end" fill="#111" stroke="#111" stroke-width="0.18">200</text>
<line x1="218.7" y1="352.50" x2="221.5" y2="352.50" stroke="#8a8a8a" stroke-width="1.0"/>
<text x="217.20" y="355.42" font-size="5.6" font-weight="bold" text-anchor="end" fill="#111" stroke="#111" stroke-width="0.18">250</text>
<line x1="218.7" y1="335.50" x2="221.5" y2="335.50" stroke="#8a8a8a" stroke-width="1.0"/>
<text x="217.20" y="338.02" font-size="5.6" font-weight="bold" text-anchor="end" fill="#111" stroke="#111" stroke-width="0.18">300</text>
<line x1="231.50" y1="439.5" x2="231.50" y2="442.5" stroke="#8a8a8a" stroke-width="1.0"/>
<text x="231.00" y="448.80" font-size="5.6" font-weight="bold" text-anchor="middle" fill="#111" stroke="#111" stroke-width="0.18">1</text>
<line x1="245.50" y1="439.5" x2="245.50" y2="442.5" stroke="#8a8a8a" stroke-width="1.0"/>
<text x="245.12" y="448.80" font-size="5.6" font-weight="bold" text-anchor="middle" fill="#111" stroke="#111" stroke-width="0.18">2</text>
<line x1="259.50" y1="439.5" x2="259.50" y2="442.5" stroke="#8a8a8a" stroke-width="1.0"/>
<text x="259.24" y="448.80" font-size="5.6" font-weight="bold" text-anchor="middle" fill="#111" stroke="#111" stroke-width="0.18">3</text>
<line x1="273.50" y1="439.5" x2="273.50" y2="442.5" stroke="#8a8a8a" stroke-width="1.0"/>
<text x="273.36" y="448.80" font-size="5.6" font-weight="bold" text-anchor="middle" fill="#111" stroke="#111" stroke-width="0.18">4</text>
<line x1="287.50" y1="439.5" x2="287.50" y2="442.5" stroke="#8a8a8a" stroke-width="1.0"/>
<text x="287.48" y="448.80" font-size="5.6" font-weight="bold" text-anchor="middle" fill="#111" stroke="#111" stroke-width="0.18">5</text>
<line x1="301.50" y1="439.5" x2="301.50" y2="442.5" stroke="#8a8a8a" stroke-width="1.0"/>
<text x="301.60" y="448.80" font-size="5.6" font-weight="bold" text-anchor="middle" fill="#111" stroke="#111" stroke-width="0.18">6</text>
<line x1="315.50" y1="439.5" x2="315.50" y2="442.5" stroke="#8a8a8a" stroke-width="1.0"/>
<text x="315.72" y="448.80" font-size="5.6" font-weight="bold" text-anchor="middle" fill="#111" stroke="#111" stroke-width="0.18">7</text>
<line x1="329.50" y1="439.5" x2="329.50" y2="442.5" stroke="#8a8a8a" stroke-width="1.0"/>
<text x="329.84" y="448.80" font-size="5.6" font-weight="bold" text-anchor="middle" fill="#111" stroke="#111" stroke-width="0.18">8</text>
<line x1="343.50" y1="439.5" x2="343.50" y2="442.5" stroke="#8a8a8a" stroke-width="1.0"/>
<text x="343.96" y="448.80" font-size="5.6" font-weight="bold" text-anchor="middle" fill="#111" stroke="#111" stroke-width="0.18">9</text>
<line x1="358.50" y1="439.5" x2="358.50" y2="442.5" stroke="#8a8a8a" stroke-width="1.0"/>
<text x="358.08" y="448.80" font-size="5.6" font-weight="bold" text-anchor="middle" fill="#111" stroke="#111" stroke-width="0.18">10</text>
<text x="295.50" y="457.00" font-size="6.4" font-weight="bold" text-anchor="middle" fill="#111" stroke="#111" stroke-width="0.18">Trial</text>
<text x="226.50" y="337.30" font-size="5.6" font-weight="bold" text-anchor="start" fill="#111" stroke="#111" stroke-width="0.18">Maximum</text>
<text x="205.60" y="385.60" font-size="6.0" font-weight="bold" text-anchor="middle" fill="#111" textLength="51" lengthAdjust="spacingAndGlyphs" transform="rotate(-90 205.60 385.60)" stroke="#111" stroke-width="0.18">Latency to Fall (s)</text>
<line x1="231.00" y1="359.46" x2="231.00" y2="367.81" stroke="#b5b5b5" stroke-width="0.8"/>
<line x1="228.80" y1="359.46" x2="233.20" y2="359.46" stroke="#b5b5b5" stroke-width="0.8"/>
<line x1="228.80" y1="367.81" x2="233.20" y2="367.81" stroke="#b5b5b5" stroke-width="0.8"/>
<line x1="245.12" y1="365.72" x2="245.12" y2="372.68" stroke="#b5b5b5" stroke-width="0.8"/>
<line x1="242.92" y1="365.72" x2="247.32" y2="365.72" stroke="#b5b5b5" stroke-width="0.8"/>
<line x1="242.92" y1="372.68" x2="247.32" y2="372.68" stroke="#b5b5b5" stroke-width="0.8"/>
<line x1="259.24" y1="360.50" x2="259.24" y2="368.86" stroke="#b5b5b5" stroke-width="0.8"/>
<line x1="257.04" y1="360.50" x2="261.44" y2="360.50" stroke="#b5b5b5" stroke-width="0.8"/>
<line x1="257.04" y1="368.86" x2="261.44" y2="368.86" stroke="#b5b5b5" stroke-width="0.8"/>
<line x1="273.36" y1="363.98" x2="273.36" y2="372.34" stroke="#b5b5b5" stroke-width="0.8"/>
<line x1="271.16" y1="363.98" x2="275.56" y2="363.98" stroke="#b5b5b5" stroke-width="0.8"/>
<line x1="271.16" y1="372.34" x2="275.56" y2="372.34" stroke="#b5b5b5" stroke-width="0.8"/>
<line x1="287.48" y1="366.77" x2="287.48" y2="375.12" stroke="#b5b5b5" stroke-width="0.8"/>
<line x1="285.28" y1="366.77" x2="289.68" y2="366.77" stroke="#b5b5b5" stroke-width="0.8"/>
<line x1="285.28" y1="375.12" x2="289.68" y2="375.12" stroke="#b5b5b5" stroke-width="0.8"/>
<line x1="301.60" y1="359.11" x2="301.60" y2="368.86" stroke="#b5b5b5" stroke-width="0.8"/>
<line x1="299.40" y1="359.11" x2="303.80" y2="359.11" stroke="#b5b5b5" stroke-width="0.8"/>
<line x1="299.40" y1="368.86" x2="303.80" y2="368.86" stroke="#b5b5b5" stroke-width="0.8"/>
<line x1="315.72" y1="359.81" x2="315.72" y2="369.55" stroke="#b5b5b5" stroke-width="0.8"/>
<line x1="313.52" y1="359.81" x2="317.92" y2="359.81" stroke="#b5b5b5" stroke-width="0.8"/>
<line x1="313.52" y1="369.55" x2="317.92" y2="369.55" stroke="#b5b5b5" stroke-width="0.8"/>
<line x1="329.84" y1="356.33" x2="329.84" y2="364.68" stroke="#b5b5b5" stroke-width="0.8"/>
<line x1="327.64" y1="356.33" x2="332.04" y2="356.33" stroke="#b5b5b5" stroke-width="0.8"/>
<line x1="327.64" y1="364.68" x2="332.04" y2="364.68" stroke="#b5b5b5" stroke-width="0.8"/>
<line x1="343.96" y1="351.80" x2="343.96" y2="360.16" stroke="#b5b5b5" stroke-width="0.8"/>
<line x1="341.76" y1="351.80" x2="346.16" y2="351.80" stroke="#b5b5b5" stroke-width="0.8"/>
<line x1="341.76" y1="360.16" x2="346.16" y2="360.16" stroke="#b5b5b5" stroke-width="0.8"/>
<line x1="358.08" y1="359.81" x2="358.08" y2="369.55" stroke="#b5b5b5" stroke-width="0.8"/>
<line x1="355.88" y1="359.81" x2="360.28" y2="359.81" stroke="#b5b5b5" stroke-width="0.8"/>
<line x1="355.88" y1="369.55" x2="360.28" y2="369.55" stroke="#b5b5b5" stroke-width="0.8"/>
<line x1="231.00" y1="366.42" x2="231.00" y2="377.56" stroke="#7cc8c4" stroke-width="0.8"/>
<line x1="228.80" y1="366.42" x2="233.20" y2="366.42" stroke="#7cc8c4" stroke-width="0.8"/>
<line x1="228.80" y1="377.56" x2="233.20" y2="377.56" stroke="#7cc8c4" stroke-width="0.8"/>
<line x1="245.12" y1="364.33" x2="245.12" y2="375.47" stroke="#7cc8c4" stroke-width="0.8"/>
<line x1="242.92" y1="364.33" x2="247.32" y2="364.33" stroke="#7cc8c4" stroke-width="0.8"/>
<line x1="242.92" y1="375.47" x2="247.32" y2="375.47" stroke="#7cc8c4" stroke-width="0.8"/>
<line x1="259.24" y1="366.77" x2="259.24" y2="377.90" stroke="#7cc8c4" stroke-width="0.8"/>
<line x1="257.04" y1="366.77" x2="261.44" y2="366.77" stroke="#7cc8c4" stroke-width="0.8"/>
<line x1="257.04" y1="377.90" x2="261.44" y2="377.90" stroke="#7cc8c4" stroke-width="0.8"/>
<line x1="273.36" y1="357.72" x2="273.36" y2="368.86" stroke="#7cc8c4" stroke-width="0.8"/>
<line x1="271.16" y1="357.72" x2="275.56" y2="357.72" stroke="#7cc8c4" stroke-width="0.8"/>
<line x1="271.16" y1="368.86" x2="275.56" y2="368.86" stroke="#7cc8c4" stroke-width="0.8"/>
<line x1="287.48" y1="360.85" x2="287.48" y2="371.99" stroke="#7cc8c4" stroke-width="0.8"/>
<line x1="285.28" y1="360.85" x2="289.68" y2="360.85" stroke="#7cc8c4" stroke-width="0.8"/>
<line x1="285.28" y1="371.99" x2="289.68" y2="371.99" stroke="#7cc8c4" stroke-width="0.8"/>
<line x1="301.60" y1="354.24" x2="301.60" y2="365.38" stroke="#7cc8c4" stroke-width="0.8"/>
<line x1="299.40" y1="354.24" x2="303.80" y2="354.24" stroke="#7cc8c4" stroke-width="0.8"/>
<line x1="299.40" y1="365.38" x2="303.80" y2="365.38" stroke="#7cc8c4" stroke-width="0.8"/>
<line x1="315.72" y1="354.24" x2="315.72" y2="365.38" stroke="#7cc8c4" stroke-width="0.8"/>
<line x1="313.52" y1="354.24" x2="317.92" y2="354.24" stroke="#7cc8c4" stroke-width="0.8"/>
<line x1="313.52" y1="365.38" x2="317.92" y2="365.38" stroke="#7cc8c4" stroke-width="0.8"/>
<line x1="329.84" y1="353.20" x2="329.84" y2="364.33" stroke="#7cc8c4" stroke-width="0.8"/>
<line x1="327.64" y1="353.20" x2="332.04" y2="353.20" stroke="#7cc8c4" stroke-width="0.8"/>
<line x1="327.64" y1="364.33" x2="332.04" y2="364.33" stroke="#7cc8c4" stroke-width="0.8"/>
<line x1="343.96" y1="347.28" x2="343.96" y2="357.02" stroke="#7cc8c4" stroke-width="0.8"/>
<line x1="341.76" y1="347.28" x2="346.16" y2="347.28" stroke="#7cc8c4" stroke-width="0.8"/>
<line x1="341.76" y1="357.02" x2="346.16" y2="357.02" stroke="#7cc8c4" stroke-width="0.8"/>
<line x1="358.08" y1="359.46" x2="358.08" y2="370.60" stroke="#7cc8c4" stroke-width="0.8"/>
<line x1="355.88" y1="359.46" x2="360.28" y2="359.46" stroke="#7cc8c4" stroke-width="0.8"/>
<line x1="355.88" y1="370.60" x2="360.28" y2="370.60" stroke="#7cc8c4" stroke-width="0.8"/>
<line x1="231.00" y1="394.61" x2="231.00" y2="408.53" stroke="#86b4dc" stroke-width="0.8"/>
<line x1="228.80" y1="394.61" x2="233.20" y2="394.61" stroke="#86b4dc" stroke-width="0.8"/>
<line x1="228.80" y1="408.53" x2="233.20" y2="408.53" stroke="#86b4dc" stroke-width="0.8"/>
<line x1="245.12" y1="381.04" x2="245.12" y2="396.35" stroke="#86b4dc" stroke-width="0.8"/>
<line x1="242.92" y1="381.04" x2="247.32" y2="381.04" stroke="#86b4dc" stroke-width="0.8"/>
<line x1="242.92" y1="396.35" x2="247.32" y2="396.35" stroke="#86b4dc" stroke-width="0.8"/>
<line x1="259.24" y1="382.08" x2="259.24" y2="400.18" stroke="#86b4dc" stroke-width="0.8"/>
<line x1="257.04" y1="382.08" x2="261.44" y2="382.08" stroke="#86b4dc" stroke-width="0.8"/>
<line x1="257.04" y1="400.18" x2="261.44" y2="400.18" stroke="#86b4dc" stroke-width="0.8"/>
<line x1="273.36" y1="374.42" x2="273.36" y2="393.91" stroke="#86b4dc" stroke-width="0.8"/>
<line x1="271.16" y1="374.42" x2="275.56" y2="374.42" stroke="#86b4dc" stroke-width="0.8"/>
<line x1="271.16" y1="393.91" x2="275.56" y2="393.91" stroke="#86b4dc" stroke-width="0.8"/>
<line x1="287.48" y1="388.00" x2="287.48" y2="404.70" stroke="#86b4dc" stroke-width="0.8"/>
<line x1="285.28" y1="388.00" x2="289.68" y2="388.00" stroke="#86b4dc" stroke-width="0.8"/>
<line x1="285.28" y1="404.70" x2="289.68" y2="404.70" stroke="#86b4dc" stroke-width="0.8"/>
<line x1="301.60" y1="375.82" x2="301.60" y2="395.30" stroke="#86b4dc" stroke-width="0.8"/>
<line x1="299.40" y1="375.82" x2="303.80" y2="375.82" stroke="#86b4dc" stroke-width="0.8"/>
<line x1="299.40" y1="395.30" x2="303.80" y2="395.30" stroke="#86b4dc" stroke-width="0.8"/>
<line x1="315.72" y1="374.77" x2="315.72" y2="392.87" stroke="#86b4dc" stroke-width="0.8"/>
<line x1="313.52" y1="374.77" x2="317.92" y2="374.77" stroke="#86b4dc" stroke-width="0.8"/>
<line x1="313.52" y1="392.87" x2="317.92" y2="392.87" stroke="#86b4dc" stroke-width="0.8"/>
<line x1="329.84" y1="376.16" x2="329.84" y2="395.65" stroke="#86b4dc" stroke-width="0.8"/>
<line x1="327.64" y1="376.16" x2="332.04" y2="376.16" stroke="#86b4dc" stroke-width="0.8"/>
<line x1="327.64" y1="395.65" x2="332.04" y2="395.65" stroke="#86b4dc" stroke-width="0.8"/>
<line x1="343.96" y1="377.56" x2="343.96" y2="394.96" stroke="#86b4dc" stroke-width="0.8"/>
<line x1="341.76" y1="377.56" x2="346.16" y2="377.56" stroke="#86b4dc" stroke-width="0.8"/>
<line x1="341.76" y1="394.96" x2="346.16" y2="394.96" stroke="#86b4dc" stroke-width="0.8"/>
<line x1="358.08" y1="380.69" x2="358.08" y2="398.78" stroke="#86b4dc" stroke-width="0.8"/>
<line x1="355.88" y1="380.69" x2="360.28" y2="380.69" stroke="#86b4dc" stroke-width="0.8"/>
<line x1="355.88" y1="398.78" x2="360.28" y2="398.78" stroke="#86b4dc" stroke-width="0.8"/>
<polyline points="231.00,363.64 245.12,369.20 259.24,364.68 273.36,368.16 287.48,370.94 301.60,363.98 315.72,364.68 329.84,360.50 343.96,355.98 358.08,364.68" fill="none" stroke="#a6a6a6" stroke-width="0.9"/>
<polyline points="231.00,371.99 245.12,369.90 259.24,372.34 273.36,363.29 287.48,366.42 301.60,359.81 315.72,359.81 329.84,358.76 343.96,352.15 358.08,365.03" fill="none" stroke="#4db3ae" stroke-width="0.9"/>
<polyline points="231.00,401.57 245.12,388.69 259.24,391.13 273.36,384.17 287.48,396.35 301.60,385.56 315.72,383.82 329.84,385.91 343.96,386.26 358.08,389.74" fill="none" stroke="#4d8fcc" stroke-width="0.9"/>
<circle cx="231.00" cy="363.64" r="2.2" fill="#fff" stroke="#9a9a9a" stroke-width="0.7"/>
<circle cx="245.12" cy="369.20" r="2.2" fill="#fff" stroke="#9a9a9a" stroke-width="0.7"/>
<circle cx="259.24" cy="364.68" r="2.2" fill="#fff" stroke="#9a9a9a" stroke-width="0.7"/>
<circle cx="273.36" cy="368.16" r="2.2" fill="#fff" stroke="#9a9a9a" stroke-width="0.7"/>
<circle cx="287.48" cy="370.94" r="2.2" fill="#fff" stroke="#9a9a9a" stroke-width="0.7"/>
<circle cx="301.60" cy="363.98" r="2.2" fill="#fff" stroke="#9a9a9a" stroke-width="0.7"/>
<circle cx="315.72" cy="364.68" r="2.2" fill="#fff" stroke="#9a9a9a" stroke-width="0.7"/>
<circle cx="329.84" cy="360.50" r="2.2" fill="#fff" stroke="#9a9a9a" stroke-width="0.7"/>
<circle cx="343.96" cy="355.98" r="2.2" fill="#fff" stroke="#9a9a9a" stroke-width="0.7"/>
<circle cx="358.08" cy="364.68" r="2.2" fill="#fff" stroke="#9a9a9a" stroke-width="0.7"/>
<circle cx="231.00" cy="371.99" r="2.15" fill="#1d958f"/>
<circle cx="245.12" cy="369.90" r="2.15" fill="#1d958f"/>
<circle cx="259.24" cy="372.34" r="2.15" fill="#1d958f"/>
<circle cx="273.36" cy="363.29" r="2.15" fill="#1d958f"/>
<circle cx="287.48" cy="366.42" r="2.15" fill="#1d958f"/>
<circle cx="301.60" cy="359.81" r="2.15" fill="#1d958f"/>
<circle cx="315.72" cy="359.81" r="2.15" fill="#1d958f"/>
<circle cx="329.84" cy="358.76" r="2.15" fill="#1d958f"/>
<circle cx="343.96" cy="352.15" r="2.15" fill="#1d958f"/>
<circle cx="358.08" cy="365.03" r="2.15" fill="#1d958f"/>
<circle cx="231.00" cy="401.57" r="2.15" fill="#0d4a94"/>
<circle cx="245.12" cy="388.69" r="2.15" fill="#0d4a94"/>
<circle cx="259.24" cy="391.13" r="2.15" fill="#0d4a94"/>
<circle cx="273.36" cy="384.17" r="2.15" fill="#0d4a94"/>
<circle cx="287.48" cy="396.35" r="2.15" fill="#0d4a94"/>
<circle cx="301.60" cy="385.56" r="2.15" fill="#0d4a94"/>
<circle cx="315.72" cy="383.82" r="2.15" fill="#0d4a94"/>
<circle cx="329.84" cy="385.91" r="2.15" fill="#0d4a94"/>
<circle cx="343.96" cy="386.26" r="2.15" fill="#0d4a94"/>
<circle cx="358.08" cy="389.74" r="2.15" fill="#0d4a94"/>
<line x1="324.0" y1="408.1" x2="331.0" y2="408.1" stroke="#a6a6a6" stroke-width="0.9"/>
<circle cx="327.5" cy="408.1" r="1.9" fill="#fff" stroke="#9a9a9a" stroke-width="0.7"/>
<text x="335.80" y="410.10" font-size="5.6" font-weight="bold" text-anchor="start" fill="#333" textLength="33.6" lengthAdjust="spacingAndGlyphs" stroke="#333" stroke-width="0.18">PBS Controls</text>
<line x1="324.0" y1="417.4" x2="331.0" y2="417.4" stroke="#4db3ae" stroke-width="0.9"/>
<circle cx="327.5" cy="417.4" r="1.9" fill="#1d958f"/>
<text x="335.80" y="419.40" font-size="5.6" font-weight="bold" text-anchor="start" fill="#333" textLength="15" lengthAdjust="spacingAndGlyphs" stroke="#333" stroke-width="0.18">PFF-1</text>
<line x1="324.0" y1="426.5" x2="331.0" y2="426.5" stroke="#4d8fcc" stroke-width="0.9"/>
<circle cx="327.5" cy="426.5" r="1.9" fill="#0d4a94"/>
<text x="335.80" y="428.50" font-size="5.6" font-weight="bold" text-anchor="start" fill="#333" textLength="15" lengthAdjust="spacingAndGlyphs" stroke="#333" stroke-width="0.18">PFF-2</text>
<rect x="227.2" y="420.4" width="48.5" height="13.2" fill="#fff" stroke="#a0a0a0" stroke-width="0.7"/>
<text x="229.60" y="431.20" font-size="10" font-weight="normal" text-anchor="start" fill="#111" textLength="41.2" lengthAdjust="spacingAndGlyphs" stroke="#111" stroke-width="0.25">16 Weeks</text>
<polyline points="356.1,416.5 360.7,416.5 360.7,427.5 356.1,427.5" fill="none" stroke="#333" stroke-width="0.8"/>
<text x="366.70" y="428.30" font-size="10.2" font-weight="bold" text-anchor="middle" fill="#111" stroke="#111" stroke-width="0.18">**</text>
<polyline points="372.6,408.4 376.4,408.4 376.4,427.5 372.6,427.5" fill="none" stroke="#333" stroke-width="0.8"/>
<text x="382.30" y="423.90" font-size="10.2" font-weight="bold" text-anchor="middle" fill="#111" stroke="#111" stroke-width="0.18">**</text>
<g transform="translate(0 0)" fill="#2b2b2b"><path d="M414.3,273.6 L421.2,273.1 L418.2,278.4 L417.2,283.4 L406.2,284.3 Q404.6,283.6 405.6,282.2 L412.6,280.7 L413.6,278.8 Z"/><path d="M414.3,273.6 L421.2,273.1 L418.2,278.4 L417.2,283.4 L406.2,284.3 Q404.6,283.6 405.6,282.2 L412.6,280.7 L413.6,278.8 Z" transform="translate(74.8 0)"/><path d="M455.2,264.4 L465.4,264.3 Q466.6,265.5 465.4,266.7 L455.7,269.3 L452,271.4 L448.2,272 L447.4,274.1 L445.8,274.4 L445.4,273.1 L444.2,272.9 Q443.3,271.5 444.5,270.5 L451,268.9 L453.2,266.9 Z"/><line x1="424.9" y1="276.6" x2="439.2" y2="271" stroke="#8a8a8a" stroke-width="0.55"/><line x1="469.7" y1="269" x2="481.7" y2="276.6" stroke="#8a8a8a" stroke-width="0.55"/></g>
<g transform="translate(6.1 139.9)" fill="#2b2b2b"><path d="M414.3,273.6 L421.2,273.1 L418.2,278.4 L417.2,283.4 L406.2,284.3 Q404.6,283.6 405.6,282.2 L412.6,280.7 L413.6,278.8 Z"/><path d="M414.3,273.6 L421.2,273.1 L418.2,278.4 L417.2,283.4 L406.2,284.3 Q404.6,283.6 405.6,282.2 L412.6,280.7 L413.6,278.8 Z" transform="translate(74.8 0)"/><path d="M455.2,264.4 L465.4,264.3 Q466.6,265.5 465.4,266.7 L455.7,269.3 L452,271.4 L448.2,272 L447.4,274.1 L445.8,274.4 L445.4,273.1 L444.2,272.9 Q443.3,271.5 444.5,270.5 L451,268.9 L453.2,266.9 Z"/><line x1="424.9" y1="276.6" x2="439.2" y2="271" stroke="#8a8a8a" stroke-width="0.55"/><line x1="469.7" y1="269" x2="481.7" y2="276.6" stroke="#8a8a8a" stroke-width="0.55"/></g>
<text x="456.80" y="242.80" font-size="8.0" font-weight="normal" text-anchor="middle" fill="#222" textLength="73.9" lengthAdjust="spacingAndGlyphs" stroke="#222" stroke-width="0.15">Speed (cm/s) of a paw</text>
<text x="457.80" y="250.90" font-size="8.0" font-weight="normal" text-anchor="middle" fill="#222" textLength="50.3" lengthAdjust="spacingAndGlyphs" stroke="#222" stroke-width="0.15">during a swing</text>
<text x="453.90" y="372.90" font-size="8.0" font-weight="normal" text-anchor="middle" fill="#222" textLength="113.3" lengthAdjust="spacingAndGlyphs" stroke="#222" stroke-width="0.15">Time (s) between two consecutive</text>
<text x="453.40" y="381.60" font-size="8.0" font-weight="normal" text-anchor="middle" fill="#222" textLength="57.3" lengthAdjust="spacingAndGlyphs" stroke="#222" stroke-width="0.15">initial contacts of</text>
<text x="454.10" y="390.90" font-size="8.0" font-weight="normal" text-anchor="middle" fill="#222" textLength="47.3" lengthAdjust="spacingAndGlyphs" stroke="#222" stroke-width="0.15">the same paw</text>
<g transform="translate(494.1 88.3) rotate(0) scale(1.0)" fill="#484848"><ellipse cx="0" cy="2.4" rx="2.0" ry="1.1"/><ellipse cx="-1.2" cy="2.7" rx="1.0" ry="0.8"/><ellipse cx="-3.9" cy="0.9" rx="0.75" ry="0.95" transform="rotate(-30 -3.9 0.9)"/><ellipse cx="-1.9" cy="-2.0" rx="0.7" ry="1.0"/><ellipse cx="0.5" cy="-2.4" rx="0.75" ry="0.95"/><ellipse cx="3.2" cy="-0.4" rx="0.8" ry="1.0" transform="rotate(30 3.2 -0.4)"/></g>
<g transform="translate(473.3 100.1) rotate(0) scale(1.0)" fill="#484848"><ellipse cx="0" cy="2.4" rx="2.0" ry="1.1"/><ellipse cx="-1.2" cy="2.7" rx="1.0" ry="0.8"/><ellipse cx="-3.9" cy="0.9" rx="0.75" ry="0.95" transform="rotate(-30 -3.9 0.9)"/><ellipse cx="-1.9" cy="-2.0" rx="0.7" ry="1.0"/><ellipse cx="0.5" cy="-2.4" rx="0.75" ry="0.95"/><ellipse cx="3.2" cy="-0.4" rx="0.8" ry="1.0" transform="rotate(30 3.2 -0.4)"/></g>
<g transform="translate(495.8 108.9) rotate(0) scale(1.0)" fill="#484848"><ellipse cx="0" cy="2.4" rx="2.0" ry="1.1"/><ellipse cx="-1.2" cy="2.7" rx="1.0" ry="0.8"/><ellipse cx="-3.9" cy="0.9" rx="0.75" ry="0.95" transform="rotate(-30 -3.9 0.9)"/><ellipse cx="-1.9" cy="-2.0" rx="0.7" ry="1.0"/><ellipse cx="0.5" cy="-2.4" rx="0.75" ry="0.95"/><ellipse cx="3.2" cy="-0.4" rx="0.8" ry="1.0" transform="rotate(30 3.2 -0.4)"/></g>
<g transform="translate(474.7 121.9) rotate(0) scale(1.0)" fill="#484848"><ellipse cx="0" cy="2.4" rx="2.0" ry="1.1"/><ellipse cx="-1.2" cy="2.7" rx="1.0" ry="0.8"/><ellipse cx="-3.9" cy="0.9" rx="0.75" ry="0.95" transform="rotate(-30 -3.9 0.9)"/><ellipse cx="-1.9" cy="-2.0" rx="0.7" ry="1.0"/><ellipse cx="0.5" cy="-2.4" rx="0.75" ry="0.95"/><ellipse cx="3.2" cy="-0.4" rx="0.8" ry="1.0" transform="rotate(30 3.2 -0.4)"/></g>
<g transform="translate(495.8 141.5) rotate(0) scale(1.0)" fill="#484848"><ellipse cx="0" cy="2.4" rx="2.0" ry="1.1"/><ellipse cx="-1.2" cy="2.7" rx="1.0" ry="0.8"/><ellipse cx="-3.9" cy="0.9" rx="0.75" ry="0.95" transform="rotate(-30 -3.9 0.9)"/><ellipse cx="-1.9" cy="-2.0" rx="0.7" ry="1.0"/><ellipse cx="0.5" cy="-2.4" rx="0.75" ry="0.95"/><ellipse cx="3.2" cy="-0.4" rx="0.8" ry="1.0" transform="rotate(30 3.2 -0.4)"/></g>
<g transform="translate(475.2 152.9) rotate(0) scale(1.0)" fill="#484848"><ellipse cx="0" cy="2.4" rx="2.0" ry="1.1"/><ellipse cx="-1.2" cy="2.7" rx="1.0" ry="0.8"/><ellipse cx="-3.9" cy="0.9" rx="0.75" ry="0.95" transform="rotate(-30 -3.9 0.9)"/><ellipse cx="-1.9" cy="-2.0" rx="0.7" ry="1.0"/><ellipse cx="0.5" cy="-2.4" rx="0.75" ry="0.95"/><ellipse cx="3.2" cy="-0.4" rx="0.8" ry="1.0" transform="rotate(30 3.2 -0.4)"/></g>
<g transform="translate(495.8 164) rotate(0) scale(1.0)" fill="#484848"><ellipse cx="0" cy="2.4" rx="2.0" ry="1.1"/><ellipse cx="-1.2" cy="2.7" rx="1.0" ry="0.8"/><ellipse cx="-3.9" cy="0.9" rx="0.75" ry="0.95" transform="rotate(-30 -3.9 0.9)"/><ellipse cx="-1.9" cy="-2.0" rx="0.7" ry="1.0"/><ellipse cx="0.5" cy="-2.4" rx="0.75" ry="0.95"/><ellipse cx="3.2" cy="-0.4" rx="0.8" ry="1.0" transform="rotate(30 3.2 -0.4)"/></g>
<g transform="translate(475.2 177) rotate(0) scale(1.0)" fill="#484848"><ellipse cx="0" cy="2.4" rx="2.0" ry="1.1"/><ellipse cx="-1.2" cy="2.7" rx="1.0" ry="0.8"/><ellipse cx="-3.9" cy="0.9" rx="0.75" ry="0.95" transform="rotate(-30 -3.9 0.9)"/><ellipse cx="-1.9" cy="-2.0" rx="0.7" ry="1.0"/><ellipse cx="0.5" cy="-2.4" rx="0.75" ry="0.95"/><ellipse cx="3.2" cy="-0.4" rx="0.8" ry="1.0" transform="rotate(30 3.2 -0.4)"/></g>
<polyline points="462.5,120.2 456,120.2 456,178.4 462.5,178.4" fill="none" stroke="#888" stroke-width="0.7"/>
<text x="440.20" y="148.50" font-size="7.2" font-weight="normal" text-anchor="middle" fill="#222" textLength="45" lengthAdjust="spacingAndGlyphs" transform="rotate(-90 440.20 148.50)" stroke="#222" stroke-width="0.12">Distance (cm)</text>
<text x="449.20" y="148.35" font-size="7.2" font-weight="normal" text-anchor="middle" fill="#222" textLength="62.1" lengthAdjust="spacingAndGlyphs" transform="rotate(-90 449.20 148.35)" stroke="#222" stroke-width="0.12">between same paw</text>

<defs>
 <linearGradient id="gloveFade" x1="0.8" y1="0" x2="0.15" y2="1">
  <stop offset="0" stop-color="#62afdc"/>
  <stop offset="0.62" stop-color="#58a8d8"/>
  <stop offset="0.8" stop-color="#7dbde4"/>
  <stop offset="0.93" stop-color="#cfe7f5"/>
  <stop offset="1" stop-color="#ffffff"/>
 </linearGradient>
</defs>
<rect x="56.1" y="59" width="69.7" height="92.2" fill="#eeeeee" stroke="#d2d2d2" stroke-width="0.7"/>
<path d="M50.7,88 C50.3,100 52,109 60,110.4 L66,110.6" fill="none" stroke="#1e1e1e" stroke-width="1.7"/>
<rect x="64.5" y="109.3" width="8.5" height="2.4" rx="0.8" fill="#2a2a2a"/>
<path d="M120.5,89.5 C128,89 132.5,86 132.8,79 L132.9,69" fill="none" stroke="#1e1e1e" stroke-width="1.9"/>
<path d="M109.5,82.5 L116.5,82.5 L116.5,80.8 L120,80.8 L120,84 L122,85 L122,93 L120,94 L120,97.3 L116.5,97.3 L116.5,95.5 L109.5,95.5 Z" fill="#333"/>
<rect x="72.4" y="65.8" width="37.4" height="76.8" rx="6.5" fill="#3b7dd6"/>
<rect x="74.4" y="67.8" width="33.4" height="72.6" rx="5" fill="#d6d6d6"/>
<rect x="76.5" y="70" width="29.2" height="68" rx="4" fill="#cfcfcf"/>
<rect x="81.1" y="76" width="19.7" height="31.7" fill="#a3b99b" stroke="#505050" stroke-width="0.7"/>
<text x="83.9" y="83.6" font-size="6" fill="#222" font-family="Liberation Sans" textLength="14.2" lengthAdjust="spacingAndGlyphs" stroke="#222" stroke-width="0.15">1.2 N</text>
<circle cx="83.5" cy="113.2" r="2.8" fill="#3a78d0"/>
<circle cx="90.9" cy="113.2" r="2.7" fill="#e9e9e9" stroke="#a9c3e6" stroke-width="0.7"/>
<circle cx="98.3" cy="113.2" r="2.7" fill="#e9e9e9" stroke="#a9c3e6" stroke-width="0.7"/>
<circle cx="90.9" cy="125.5" r="9.2" fill="#eeeeee" stroke="#a9c3e6" stroke-width="0.9"/>
<path d="M84.4,119 L97.4,132 M97.4,119 L84.4,132" stroke="#a9c3e6" stroke-width="0.9"/>
<circle cx="90.9" cy="125.5" r="1.6" fill="#dcdcdc" stroke="#a9c3e6" stroke-width="0.5"/>
<path d="M90.9,118.6 l1.5,2 h-3 z M90.9,132.4 l1.5,-2 h-3 z M84,125.5 l2,1.5 v-3 z M97.8,125.5 l-2,1.5 v-3 z" fill="#2459b0"/>
<circle cx="83.5" cy="136.4" r="3.0" fill="#f3d3d6" stroke="#e2404e" stroke-width="0.6"/>
<circle cx="83.5" cy="136.4" r="1.5" fill="none" stroke="#e2404e" stroke-width="0.6"/>
<line x1="90.9" y1="142.5" x2="90.9" y2="159.5" stroke="#2e2e2e" stroke-width="2.2"/>
<polyline points="70.6,177.2 90.9,159.3 111.8,177.2" fill="none" stroke="#3a3a3a" stroke-width="1.9"/>
<rect x="63.2" y="176.9" width="54.8" height="3.0" rx="1.4" fill="#333"/>
<line x1="64.5" y1="178.0" x2="116.6" y2="178.0" stroke="#888" stroke-width="0.5"/>
<path d="M78.7,239.4 C80,233 83,230.8 86,230.6 C89,229.8 92,229.6 94.6,230 C99,230 104,231 107.6,233.6 C109.5,235.5 110.4,238 110.4,240.9 C112.5,240.6 115,241 116.5,243 C118,245 119,249 119,253.8 L118.4,274 C118,277 116.5,279 114.8,279.8 C111,283 107,285 103.2,285.5 C98,287 93,287.5 88.8,287 C80,286 71,281 64.3,272.6 C66,266 68.5,262 71.5,258.2 C74,255 76,252.5 77.3,251 C77.5,247 77.8,243 78.7,239.4 Z" fill="url(#gloveFade)"/>
<path d="M71.5,258.2 C76,262 82,262.5 86,258 C90,262 97,263 103,259 C106,262 112,264 118.8,262 L118.4,274 C118,277 116.5,279 114.8,279.8 C111,283 107,285 103.2,285.5 C98,287 93,287.5 88.8,287 C80,286 71,281 64.3,272.6 C66,266 68.5,262 71.5,258.2 Z" fill="#4592c4" opacity="0.25"/>
<path d="M96,232 C101,232.5 105,235 107,239 C106,243 102,245 98,243 C97,239 96.5,235 96,232 Z" fill="#7cc0e6" opacity="0.7"/>
<path d="M110.4,240.9 C113,243 114,247 113.5,252 L111,250 C111,246 110.8,243 110.4,240.9 Z" fill="#7cc0e6" opacity="0.6"/>
<path d="M76,262 C80,258 86,258 90,262 C88,266 82,268 76,266 Z" fill="#7cc0e6" opacity="0.5"/>
<ellipse cx="90.6" cy="248.4" rx="2.5" ry="3.4" fill="#fff"/>
<path d="M92.4,215 L92.8,236.5 C92.7,240 92,242.5 91,243.7 C89.5,246 88,247.6 86.5,248 C84,248.6 82,248.4 80.2,248" fill="none" stroke="#b98476" stroke-width="1.1"/>
<path d="M86,177 L85.6,183 M97.6,177 L98,183" stroke="#d39a98" stroke-width="1.6"/>
<path d="M91.5,172.5 C93.5,172.5 94.5,175 95,177.5 C97,178.5 99,180 99.5,182.5 C101,186 101.8,192 101.8,198 C101.8,204 101,209 99,212.5 C97,215.5 94.5,216.5 92.5,216.5 C90,216.5 87.5,215.5 86,212.5 C84,209 83.5,204 83.5,198 C83.5,192 84,186 85.5,182.5 C86,180 88,178.5 88.5,177.5 C89,175 89.5,172.5 91.5,172.5 Z" fill="#6b5a4c" stroke="#54463b" stroke-width="0.5"/>
<path d="M85,211 C83,214 80,216 78,216.6 M100.5,210 C102.5,212.5 105,214 107.5,213.8" fill="none" stroke="#c79890" stroke-width="1.2"/>


<path d="M260.3,121 L334.5,121 L339,131.5 L255.5,131.5 Z" fill="#e6e6df" stroke="#b0b0b0" stroke-width="0.5"/>
<rect x="254.5" y="131.3" width="84.6" height="2.2" fill="#c9c9c3"/>
<rect x="254.5" y="133.3" width="84.6" height="18.4" rx="1.5" fill="#ebebe5" stroke="#b4b4b4" stroke-width="0.5"/>
<rect x="263.4" y="118.6" width="13.0" height="12" fill="#72766a"/>
<rect x="263.4" y="118.6" width="13.0" height="4.6" fill="#9a9d8e"/>
<rect x="269.6" y="116.2" width="0.6" height="2.4" fill="#888"/>
<rect x="277.5" y="118.6" width="11.2" height="12" fill="#72766a"/>
<rect x="277.5" y="118.6" width="11.2" height="4.6" fill="#9a9d8e"/>
<rect x="282.8" y="116.2" width="0.6" height="2.4" fill="#888"/>
<rect x="289.5" y="118.6" width="12.2" height="12" fill="#72766a"/>
<rect x="289.5" y="118.6" width="12.2" height="4.6" fill="#9a9d8e"/>
<rect x="295.3" y="116.2" width="0.6" height="2.4" fill="#888"/>
<rect x="303" y="118.6" width="11.0" height="12" fill="#72766a"/>
<rect x="303" y="118.6" width="11.0" height="4.6" fill="#9a9d8e"/>
<rect x="308.2" y="116.2" width="0.6" height="2.4" fill="#888"/>
<rect x="315.2" y="118.6" width="11.8" height="12" fill="#72766a"/>
<rect x="315.2" y="118.6" width="11.8" height="4.6" fill="#9a9d8e"/>
<rect x="320.8" y="116.2" width="0.6" height="2.4" fill="#888"/>
<rect x="278" y="138.8" width="35.3" height="8" rx="0.8" fill="#65749f" stroke="#4a5680" stroke-width="0.5"/>
<path d="M284,146.8 L292,138.8 L300,138.8 L292,146.8 Z" fill="#8a98c0" opacity="0.6"/>
<ellipse cx="272.2" cy="139.9" rx="3.5" ry="1.3" fill="#4a5888"/>
<ellipse cx="272.2" cy="145.3" rx="3.5" ry="1.3" fill="#4a5888"/>
<ellipse cx="319.5" cy="139.9" rx="3.5" ry="1.3" fill="#4a5888"/>
<ellipse cx="319.5" cy="145.3" rx="3.5" ry="1.3" fill="#4a5888"/>
<path d="M253.3,61.5 L258.8,58.5 L258.8,130.2 L253.3,130.2 Z" fill="#bdbdbd" stroke="#8a8a8a" stroke-width="0.5"/>
<path d="M333.7,58.5 L339.2,61.5 L339.2,130.2 L333.7,130.2 Z" fill="#bdbdbd" stroke="#8a8a8a" stroke-width="0.5"/>
<rect x="264.8" y="78.1" width="68" height="10.4" fill="#3b3b3b"/>
<path d="M338,79.5 L341.5,76.5 L344,76.5 Q345.2,76.5 345.2,78 L345.2,86.5 Q345.2,88 344,88 L341.5,88 L338,86.5 Z" fill="#2e2e2e"/>
<rect x="334.5" y="82" width="4" height="4" fill="#d8d8d8"/>
<rect x="255" y="82" width="4" height="4" fill="#d8d8d8"/>

<ellipse cx="264.25" cy="92.3" rx="3.1499999999999773" ry="38" fill="#9a9a9a" stroke="#707070" stroke-width="0.5"/>
<ellipse cx="264.85" cy="92.3" rx="1.259999999999991" ry="35.5" fill="#c9c9c9"/>
<ellipse cx="326.45000000000005" cy="92.3" rx="3.1500000000000057" ry="38" fill="#9a9a9a" stroke="#707070" stroke-width="0.5"/>
<ellipse cx="327.05000000000007" cy="92.3" rx="1.2600000000000025" ry="35.5" fill="#c9c9c9"/>
<path d="M275.3,130 L275.3,57.5 Q277.1,52.5 278.9,57.5 L278.9,130 Z" fill="#b0b0b0" stroke="#7e7e7e" stroke-width="0.45"/>
<rect x="276.70000000000005" y="58" width="0.8" height="72" fill="#d6d6d6"/>
<path d="M287.4,130 L287.4,57.5 Q288.5,52.5 289.6,57.5 L289.6,130 Z" fill="#b0b0b0" stroke="#7e7e7e" stroke-width="0.45"/>
<rect x="288.1" y="58" width="0.8" height="72" fill="#d6d6d6"/>
<path d="M300.4,130 L300.4,57.5 Q301.6,52.5 302.8,57.5 L302.8,130 Z" fill="#b0b0b0" stroke="#7e7e7e" stroke-width="0.45"/>
<rect x="301.20000000000005" y="58" width="0.8" height="72" fill="#d6d6d6"/>
<path d="M311.7,130 L311.7,57.5 Q313.29999999999995,52.5 314.9,57.5 L314.9,130 Z" fill="#b0b0b0" stroke="#7e7e7e" stroke-width="0.45"/>
<rect x="312.9" y="58" width="0.8" height="72" fill="#d6d6d6"/>
<path d="M270.2,73.4 C271.5,74.4 272.0,75.9 272.4,76.9 L273.59999999999997,76.30000000000001 L273.09999999999997,78.4 C274.2,81.4 274.2,85.4 273.8,87.9 L274.59999999999997,89.60000000000001 L272.0,89.0 C271.2,89.5 269.2,89.5 268.4,89.0 L265.8,89.60000000000001 L266.59999999999997,87.9 C266.2,85.4 266.2,81.4 267.3,78.4 L266.8,76.30000000000001 L268.0,76.9 C268.4,75.9 268.9,74.4 270.2,73.4 Z" fill="#8a684e" stroke="#6e5240" stroke-width="0.35"/><path d="M270.2,89.2 C271.4,91.9 268.8,93.9 270.0,96.4 C271.0,98.4 269.0,100.4 269.59999999999997,102.9" fill="none" stroke="#c39283" stroke-width="0.75"/>
<path d="M282.4,75.9 C283.7,76.9 284.2,78.4 284.59999999999997,79.4 L285.79999999999995,78.80000000000001 L285.29999999999995,80.9 C286.4,83.9 286.4,87.9 286.0,90.4 L286.79999999999995,92.10000000000001 L284.2,91.5 C283.4,92.0 281.4,92.0 280.59999999999997,91.5 L278.0,92.10000000000001 L278.79999999999995,90.4 C278.4,87.9 278.4,83.9 279.5,80.9 L279.0,78.80000000000001 L280.2,79.4 C280.59999999999997,78.4 281.09999999999997,76.9 282.4,75.9 Z" fill="#8a684e" stroke="#6e5240" stroke-width="0.35"/><path d="M282.4,91.7 C283.59999999999997,94.4 281.0,96.4 282.2,98.9 C283.2,100.9 281.2,102.9 281.79999999999995,105.4" fill="none" stroke="#c39283" stroke-width="0.75"/>
<path d="M296.2,73.4 C297.5,74.4 298.0,75.9 298.4,76.9 L299.59999999999997,76.30000000000001 L299.09999999999997,78.4 C300.2,81.4 300.2,85.4 299.8,87.9 L300.59999999999997,89.60000000000001 L298.0,89.0 C297.2,89.5 295.2,89.5 294.4,89.0 L291.8,89.60000000000001 L292.59999999999997,87.9 C292.2,85.4 292.2,81.4 293.3,78.4 L292.8,76.30000000000001 L294.0,76.9 C294.4,75.9 294.9,74.4 296.2,73.4 Z" fill="#8a684e" stroke="#6e5240" stroke-width="0.35"/><path d="M296.2,89.2 C297.4,91.9 294.8,93.9 296.0,96.4 C297.0,98.4 295.0,100.4 295.59999999999997,102.9" fill="none" stroke="#c39283" stroke-width="0.75"/>
<path d="M307.4,73.6 C308.7,74.6 309.2,76.1 309.59999999999997,77.1 L310.79999999999995,76.5 L310.29999999999995,78.6 C311.4,81.6 311.4,85.6 311.0,88.1 L311.79999999999995,89.8 L309.2,89.19999999999999 C308.4,89.69999999999999 306.4,89.69999999999999 305.59999999999997,89.19999999999999 L303.0,89.8 L303.79999999999995,88.1 C303.4,85.6 303.4,81.6 304.5,78.6 L304.0,76.5 L305.2,77.1 C305.59999999999997,76.1 306.09999999999997,74.6 307.4,73.6 Z" fill="#8a684e" stroke="#6e5240" stroke-width="0.35"/><path d="M307.4,89.39999999999999 C308.59999999999997,92.1 306.0,94.1 307.2,96.6 C308.2,98.6 306.2,100.6 306.79999999999995,103.1" fill="none" stroke="#c39283" stroke-width="0.75"/>
<path d="M320.9,74.2 C322.2,75.2 322.7,76.7 323.09999999999997,77.7 L324.29999999999995,77.10000000000001 L323.79999999999995,79.2 C324.9,82.2 324.9,86.2 324.5,88.7 L325.29999999999995,90.4 L322.7,89.8 C321.9,90.30000000000001 319.9,90.30000000000001 319.09999999999997,89.8 L316.5,90.4 L317.29999999999995,88.7 C316.9,86.2 316.9,82.2 318.0,79.2 L317.5,77.10000000000001 L318.7,77.7 C319.09999999999997,76.7 319.59999999999997,75.2 320.9,74.2 Z" fill="#8a684e" stroke="#6e5240" stroke-width="0.35"/><path d="M320.9,90.0 C322.09999999999997,92.7 319.5,94.7 320.7,97.2 C321.7,99.2 319.7,101.2 320.29999999999995,103.7" fill="none" stroke="#c39283" stroke-width="0.75"/>

<ellipse cx="631.7" cy="43.5" rx="46.5" ry="44.6" fill="#444444"/>
<path d="M588.2,34.3 C598,39.3 610,41.3 622.5,41.3 L623,43.8 C609,43.6 597,41.6 587.7,35.7 Z" fill="#fff"/>
<path d="M622.9,41 C625,39 627,37.6 630,36.6 C633,35.9 637,35.8 641,36.4 C644,37 647,37.4 650,37 C652,36.8 654,37.4 655.6,37.6 C656.5,36.4 658.5,35.8 660,36.2 C661.2,36.6 661.5,37.6 661.3,38.6 C662.5,39.3 663.3,39.9 664,40.5 C666,41.3 668.5,42.3 671.2,44.2 C670,45.3 668,46.5 665.8,47.4 C664.4,47.8 663,48.1 662,48.5 C662.3,49.6 662,51 660.8,51.6 C659.3,52.4 657.5,52 656.5,51.1 L655.3,51 C653,51.4 651.5,51.7 650,51.9 C647,52.6 645,53 643.9,53.2 C641,53.4 639,53.4 636.9,53.2 C634.5,53 633,52.6 631.6,51.9 C629.5,51 627.5,50.2 626.4,49.3 C624.8,48 623.5,47 622.9,45.8 C622,45 621.5,44 621.1,43.1 Z" fill="#fff"/>
<rect x="639.6" y="38.4" width="5" height="4.4" fill="none" stroke="#eeb0b0" stroke-width="0.4"/>
<rect x="648.8" y="38.4" width="5" height="4.4" fill="none" stroke="#c4ddb4" stroke-width="0.4"/>
<rect x="632.2" y="48" width="5" height="4.4" fill="none" stroke="#b4dde4" stroke-width="0.4"/>
<rect x="651" y="46.6" width="5" height="4.4" fill="none" stroke="#f4cfb0" stroke-width="0.4"/>
<g fill="#666"><circle cx="642.1" cy="41.1" r="0.8"/><circle cx="651.3" cy="40.8" r="0.8"/><circle cx="634.7" cy="50.4" r="0.8"/><circle cx="653.5" cy="49" r="0.8"/>
<circle cx="641" cy="39.6" r="0.35"/><circle cx="643" cy="39.6" r="0.35"/><circle cx="650.2" cy="39.5" r="0.35"/><circle cx="652.3" cy="39.5" r="0.35"/>
<circle cx="633.7" cy="49.1" r="0.35"/><circle cx="635.6" cy="49.1" r="0.35"/><circle cx="652.4" cy="47.7" r="0.35"/><circle cx="654.5" cy="47.7" r="0.35"/></g>

<text x="635.20" y="26.40" font-size="4.9" font-weight="normal" text-anchor="middle" fill="#cc5555" textLength="10.6" lengthAdjust="spacingAndGlyphs">Right</text>
<text x="635.70" y="31.80" font-size="4.9" font-weight="normal" text-anchor="middle" fill="#cc5555" textLength="17.9" lengthAdjust="spacingAndGlyphs">hindpaw</text>
<text x="658.90" y="27.80" font-size="4.9" font-weight="normal" text-anchor="middle" fill="#79b860" textLength="10.2" lengthAdjust="spacingAndGlyphs">Right</text>
<text x="659.40" y="33.10" font-size="4.9" font-weight="normal" text-anchor="middle" fill="#79b860" textLength="16.7" lengthAdjust="spacingAndGlyphs">forepaw</text>
<text x="630.90" y="58.40" font-size="4.9" font-weight="normal" text-anchor="middle" fill="#3eaabb" textLength="7.6" lengthAdjust="spacingAndGlyphs">Left</text>
<text x="630.90" y="63.10" font-size="4.9" font-weight="normal" text-anchor="middle" fill="#3eaabb" textLength="17.4" lengthAdjust="spacingAndGlyphs">hindpaw</text>
<text x="655.20" y="58.40" font-size="4.9" font-weight="normal" text-anchor="middle" fill="#d98c50" textLength="7.6" lengthAdjust="spacingAndGlyphs">Left</text>
<text x="655.50" y="63.10" font-size="4.9" font-weight="normal" text-anchor="middle" fill="#d98c50" textLength="16.9" lengthAdjust="spacingAndGlyphs">forepaw</text>
</svg></body></html>
